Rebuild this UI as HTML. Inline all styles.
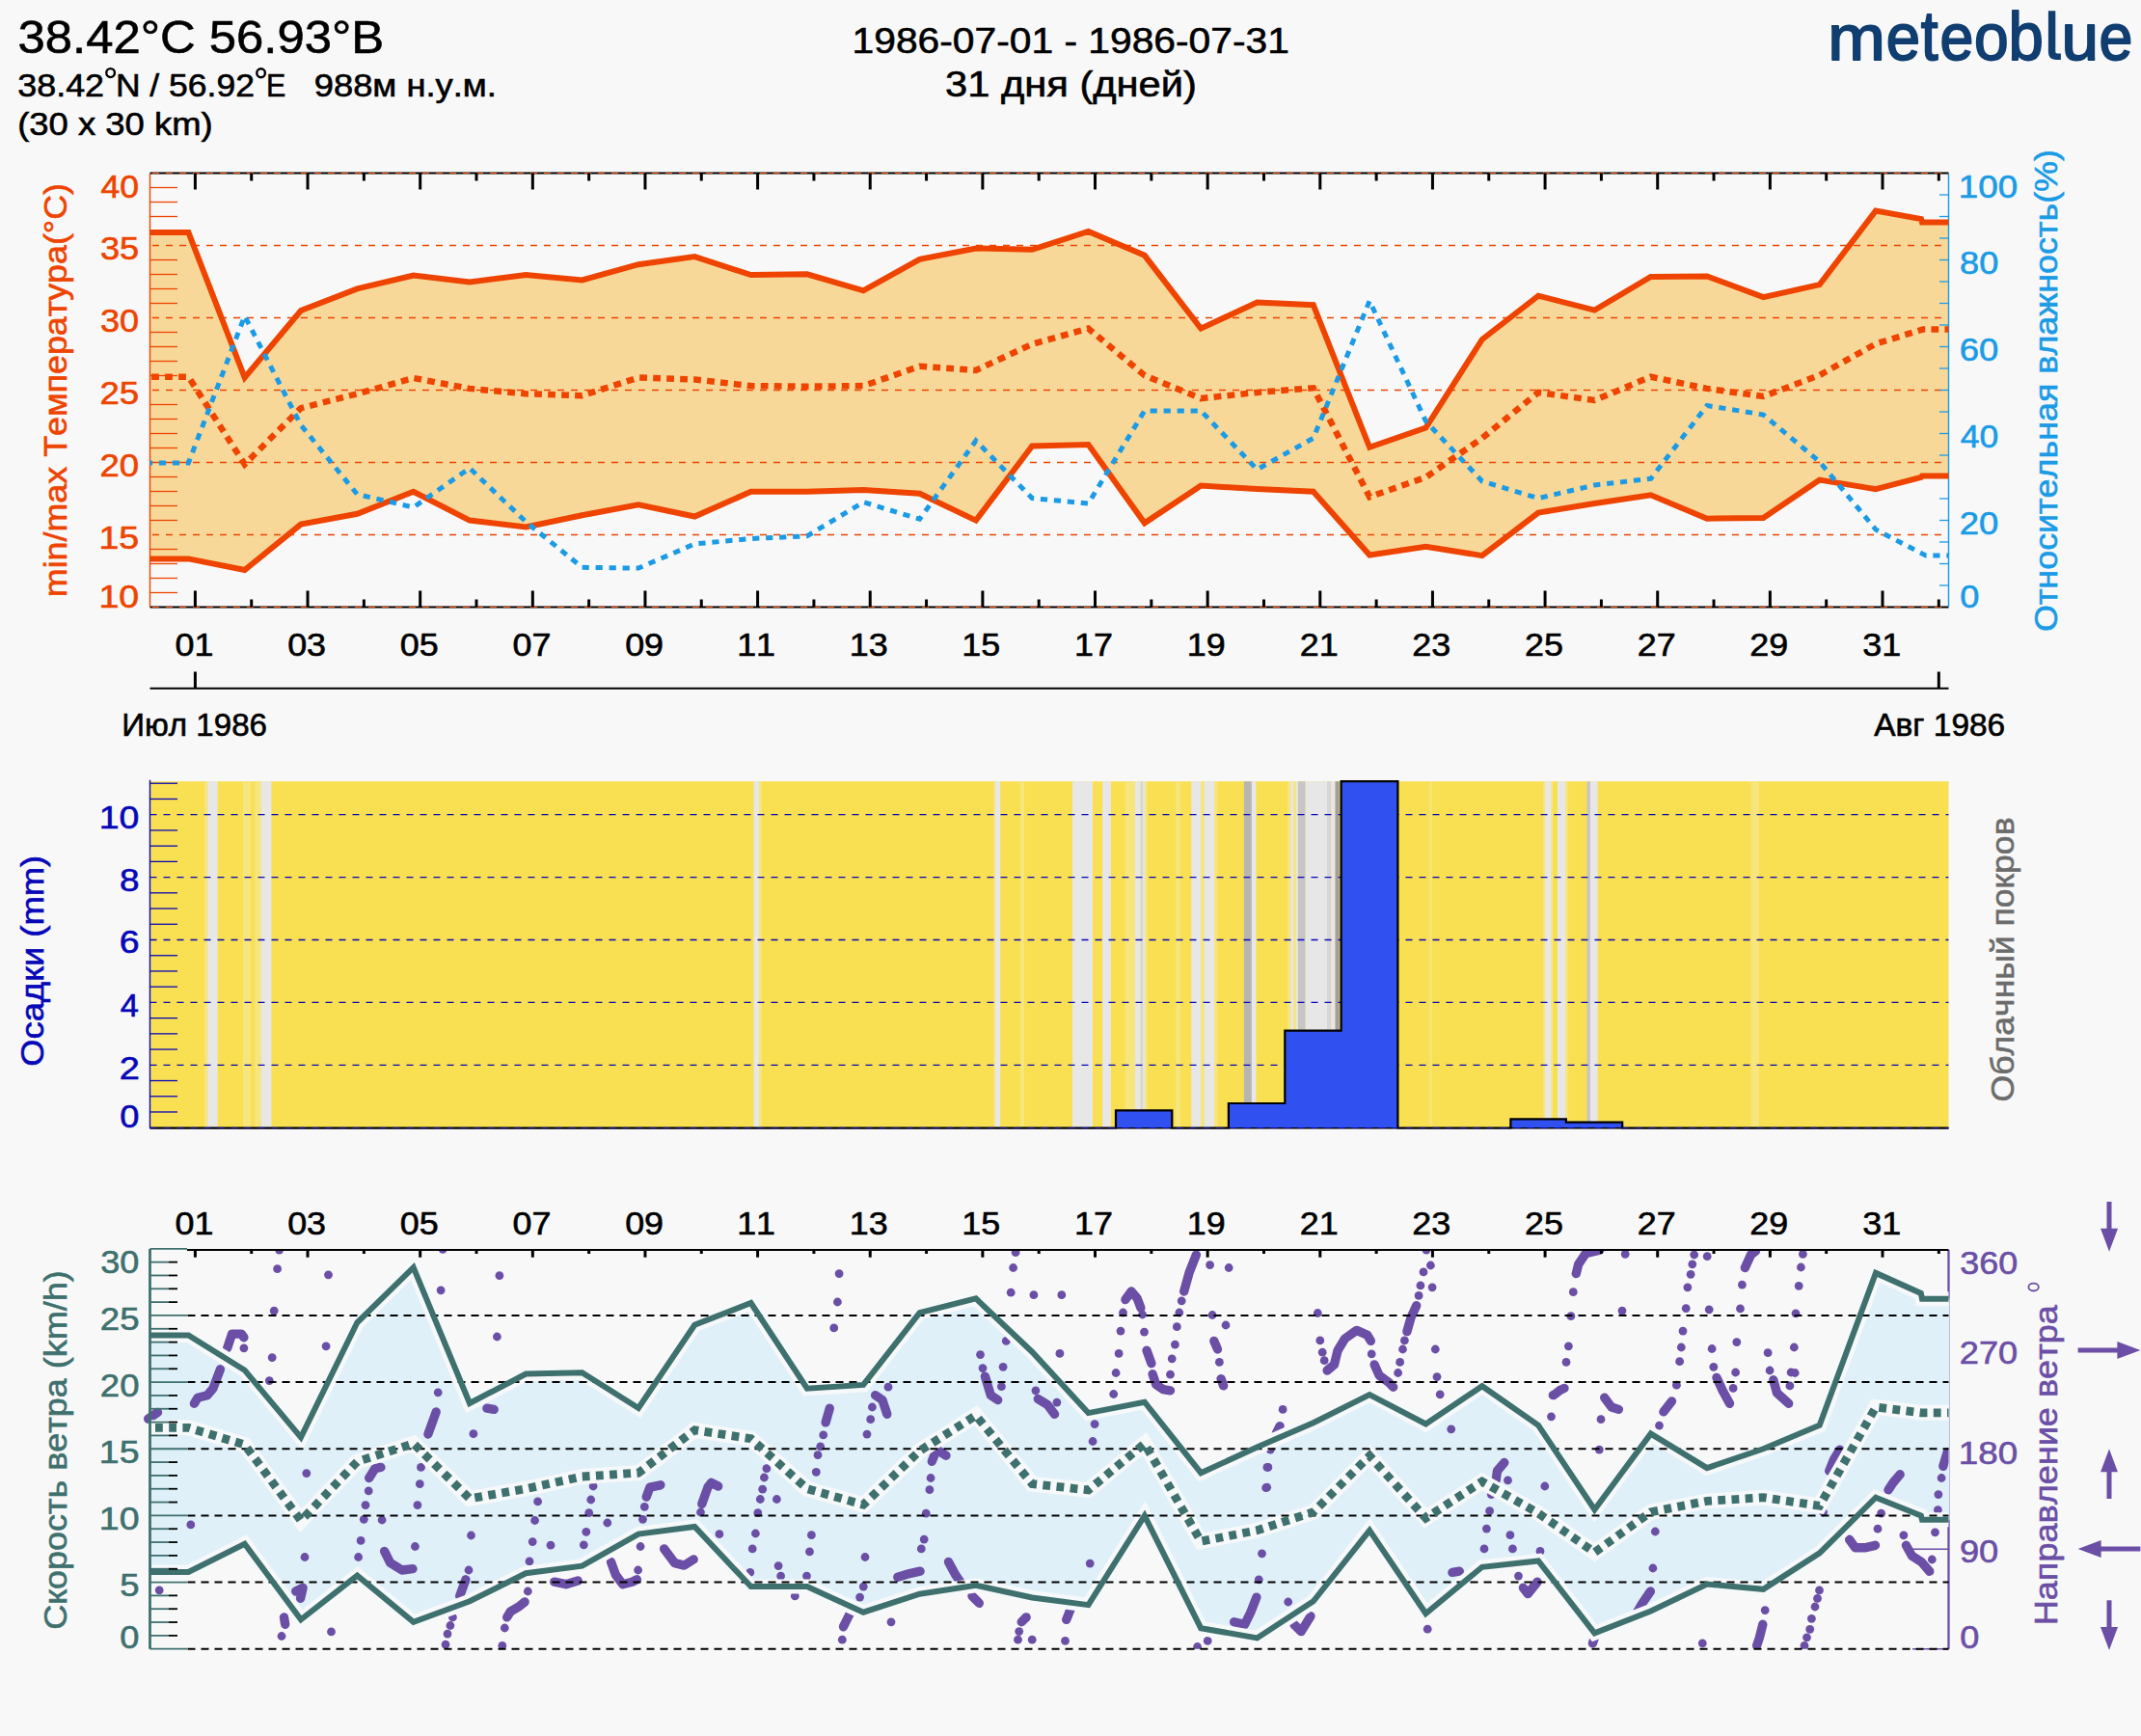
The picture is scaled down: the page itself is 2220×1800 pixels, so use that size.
<!DOCTYPE html>
<html><head><meta charset="utf-8"><title>meteoblue</title>
<style>html,body{margin:0;padding:0;background:#f8f8f8;} svg{display:block;}</style>
</head><body>
<svg width="2220" height="1800" viewBox="0 0 2220 1800" font-family="&quot;Liberation Sans&quot;, sans-serif" style="font-kerning:none">
<rect x="0" y="0" width="2220" height="1800" fill="#f8f8f8"/>
<text transform="translate(18.56,55.20) scale(1.0437,1)" font-size="48.69" fill="#000" stroke="#000" stroke-width="0.6">38.42°C 56.93°B</text>
<text transform="translate(18.33,99.90) scale(1.0731,1)" font-size="33.43" fill="#000" stroke="#000" stroke-width="0.6">38.42</text>
<text transform="translate(119.89,99.90) scale(1.0614,1)" font-size="33.43" fill="#000" stroke="#000" stroke-width="0.6">N / 56.92</text>
<text transform="translate(276.00,99.90) scale(0.9106,1)" font-size="33.43" fill="#000" stroke="#000" stroke-width="0.6">E</text>
<ellipse cx="114.6" cy="75.6" rx="4.3" ry="4.5" fill="none" stroke="#000" stroke-width="2.4"/>
<ellipse cx="270.6" cy="75.7" rx="4.3" ry="4.5" fill="none" stroke="#000" stroke-width="2.4"/>
<text transform="translate(325.80,99.90) scale(1.1020,1)" font-size="32.94" fill="#000" stroke="#000" stroke-width="0.6">988м н.у.м.</text>
<text transform="translate(18.24,139.90) scale(1.1155,1)" font-size="32.65" fill="#000" stroke="#000" stroke-width="0.6">(30 x 30 km)</text>
<text transform="translate(883.59,55.00) scale(1.0790,1)" font-size="37.79" fill="#000" stroke="#000" stroke-width="0.6">1986-07-01 - 1986-07-31</text>
<text transform="translate(980.11,100.00) scale(1.1188,1)" font-size="37.24" fill="#000" stroke="#000" stroke-width="0.6">31 дня (дней)</text>
<text transform="translate(1895.35,61.70) scale(1.0658,1)" font-size="67.09" fill="#103e70" stroke="#103e70" stroke-width="1.9" stroke-linejoin="round">m</text>
<text transform="translate(1955.80,61.70) scale(0.9286,1)" font-size="68.39" fill="#103e70" stroke="#103e70" stroke-width="1.9" stroke-linejoin="round">e</text>
<text transform="translate(1991.63,61.70) scale(0.8890,1)" font-size="72.24" fill="#103e70" stroke="#103e70" stroke-width="1.9" stroke-linejoin="round">t</text>
<text transform="translate(2011.54,61.70) scale(0.9161,1)" font-size="68.39" fill="#103e70" stroke="#103e70" stroke-width="1.9" stroke-linejoin="round">e</text>
<text transform="translate(2046.91,61.70) scale(0.9383,1)" font-size="68.39" fill="#103e70" stroke="#103e70" stroke-width="1.9" stroke-linejoin="round">o</text>
<text transform="translate(2082.59,61.70) scale(0.9381,1)" font-size="69.69" fill="#103e70" stroke="#103e70" stroke-width="1.9" stroke-linejoin="round">b</text>
<text transform="translate(2137.61,61.70) scale(1.0213,1)" font-size="67.76" fill="#103e70" stroke="#103e70" stroke-width="1.9" stroke-linejoin="round">u</text>
<text transform="translate(2176.54,61.70) scale(0.9161,1)" font-size="68.39" fill="#103e70" stroke="#103e70" stroke-width="1.9" stroke-linejoin="round">e</text>
<path d="M2123.9,11.2 h7.4 v42.5 q0,1.8 1.8,1.8 h3.8 v6.4 h-5.2 q-7.8,0 -7.8,-7.8 z" fill="#103e70"/>
<polygon points="155.5,240.9 195.4,240.9 253.7,391.5 312.0,322.0 370.4,299.4 428.7,285.5 487.0,292.4 545.3,285.0 603.6,290.5 662.0,274.2 720.3,266.1 778.6,285.1 836.9,284.3 895.2,301.3 953.6,268.8 1011.9,257.5 1070.2,258.8 1128.5,239.9 1186.8,264.8 1245.2,340.6 1303.5,313.5 1361.8,316.2 1420.1,463.8 1478.4,443.5 1536.8,352.0 1595.1,306.7 1653.4,321.6 1711.7,287.0 1770.0,286.4 1828.4,308.1 1886.7,295.1 1945.0,218.5 1992.0,227.0 1993.0,230.4 2020.5,230.4 2020.5,493.6 1993.0,493.6 1992.0,494.9 1945.0,507.1 1886.7,497.6 1828.4,536.9 1770.0,537.7 1711.7,513.3 1653.4,522.0 1595.1,531.5 1536.8,576.1 1478.4,566.7 1420.1,575.5 1361.8,509.8 1303.5,507.1 1245.2,503.6 1186.8,542.3 1128.5,461.1 1070.2,462.4 1011.9,539.6 953.6,511.7 895.2,507.9 836.9,509.8 778.6,509.8 720.3,535.5 662.0,523.3 603.6,534.2 545.3,546.4 487.0,539.6 428.7,509.8 370.4,532.8 312.0,543.6 253.7,591.0 195.4,579.4 155.5,579.4" fill="#f8d899"/>
<line x1="158" y1="254.5" x2="2020.5" y2="254.5" stroke="#ee4400" stroke-width="1.3" stroke-dasharray="7 7"/>
<line x1="158" y1="329.5" x2="2020.5" y2="329.5" stroke="#ee4400" stroke-width="1.3" stroke-dasharray="7 7"/>
<line x1="158" y1="404.5" x2="2020.5" y2="404.5" stroke="#ee4400" stroke-width="1.3" stroke-dasharray="7 7"/>
<line x1="158" y1="479.5" x2="2020.5" y2="479.5" stroke="#ee4400" stroke-width="1.3" stroke-dasharray="7 7"/>
<line x1="158" y1="554.5" x2="2020.5" y2="554.5" stroke="#ee4400" stroke-width="1.3" stroke-dasharray="7 7"/>
<line x1="155.5" y1="614.5" x2="184" y2="614.5" stroke="#ee4400" stroke-width="1.3"/>
<line x1="155.5" y1="599.5" x2="184" y2="599.5" stroke="#ee4400" stroke-width="1.3"/>
<line x1="155.5" y1="584.5" x2="184" y2="584.5" stroke="#ee4400" stroke-width="1.3"/>
<line x1="155.5" y1="569.5" x2="184" y2="569.5" stroke="#ee4400" stroke-width="1.3"/>
<line x1="155.5" y1="539.5" x2="184" y2="539.5" stroke="#ee4400" stroke-width="1.3"/>
<line x1="155.5" y1="524.5" x2="184" y2="524.5" stroke="#ee4400" stroke-width="1.3"/>
<line x1="155.5" y1="509.5" x2="184" y2="509.5" stroke="#ee4400" stroke-width="1.3"/>
<line x1="155.5" y1="494.5" x2="184" y2="494.5" stroke="#ee4400" stroke-width="1.3"/>
<line x1="155.5" y1="464.5" x2="184" y2="464.5" stroke="#ee4400" stroke-width="1.3"/>
<line x1="155.5" y1="449.5" x2="184" y2="449.5" stroke="#ee4400" stroke-width="1.3"/>
<line x1="155.5" y1="434.5" x2="184" y2="434.5" stroke="#ee4400" stroke-width="1.3"/>
<line x1="155.5" y1="419.5" x2="184" y2="419.5" stroke="#ee4400" stroke-width="1.3"/>
<line x1="155.5" y1="389.5" x2="184" y2="389.5" stroke="#ee4400" stroke-width="1.3"/>
<line x1="155.5" y1="374.5" x2="184" y2="374.5" stroke="#ee4400" stroke-width="1.3"/>
<line x1="155.5" y1="359.5" x2="184" y2="359.5" stroke="#ee4400" stroke-width="1.3"/>
<line x1="155.5" y1="344.5" x2="184" y2="344.5" stroke="#ee4400" stroke-width="1.3"/>
<line x1="155.5" y1="314.5" x2="184" y2="314.5" stroke="#ee4400" stroke-width="1.3"/>
<line x1="155.5" y1="299.5" x2="184" y2="299.5" stroke="#ee4400" stroke-width="1.3"/>
<line x1="155.5" y1="284.5" x2="184" y2="284.5" stroke="#ee4400" stroke-width="1.3"/>
<line x1="155.5" y1="269.5" x2="184" y2="269.5" stroke="#ee4400" stroke-width="1.3"/>
<line x1="155.5" y1="239.5" x2="184" y2="239.5" stroke="#ee4400" stroke-width="1.3"/>
<line x1="155.5" y1="224.5" x2="184" y2="224.5" stroke="#ee4400" stroke-width="1.3"/>
<line x1="155.5" y1="209.5" x2="184" y2="209.5" stroke="#ee4400" stroke-width="1.3"/>
<line x1="155.5" y1="194.5" x2="184" y2="194.5" stroke="#ee4400" stroke-width="1.3"/>
<line x1="2011" y1="607.0" x2="2020.5" y2="607.0" stroke="#1b9be6" stroke-width="1.3"/>
<line x1="2011" y1="584.5" x2="2020.5" y2="584.5" stroke="#1b9be6" stroke-width="1.3"/>
<line x1="2011" y1="562.0" x2="2020.5" y2="562.0" stroke="#1b9be6" stroke-width="1.3"/>
<line x1="2011" y1="539.5" x2="2020.5" y2="539.5" stroke="#1b9be6" stroke-width="1.3"/>
<line x1="2011" y1="517.0" x2="2020.5" y2="517.0" stroke="#1b9be6" stroke-width="1.3"/>
<line x1="2011" y1="494.5" x2="2020.5" y2="494.5" stroke="#1b9be6" stroke-width="1.3"/>
<line x1="2011" y1="472.0" x2="2020.5" y2="472.0" stroke="#1b9be6" stroke-width="1.3"/>
<line x1="2011" y1="449.5" x2="2020.5" y2="449.5" stroke="#1b9be6" stroke-width="1.3"/>
<line x1="2011" y1="427.0" x2="2020.5" y2="427.0" stroke="#1b9be6" stroke-width="1.3"/>
<line x1="2011" y1="404.5" x2="2020.5" y2="404.5" stroke="#1b9be6" stroke-width="1.3"/>
<line x1="2011" y1="382.0" x2="2020.5" y2="382.0" stroke="#1b9be6" stroke-width="1.3"/>
<line x1="2011" y1="359.5" x2="2020.5" y2="359.5" stroke="#1b9be6" stroke-width="1.3"/>
<line x1="2011" y1="337.0" x2="2020.5" y2="337.0" stroke="#1b9be6" stroke-width="1.3"/>
<line x1="2011" y1="314.5" x2="2020.5" y2="314.5" stroke="#1b9be6" stroke-width="1.3"/>
<line x1="2011" y1="292.0" x2="2020.5" y2="292.0" stroke="#1b9be6" stroke-width="1.3"/>
<line x1="2011" y1="269.5" x2="2020.5" y2="269.5" stroke="#1b9be6" stroke-width="1.3"/>
<line x1="2011" y1="247.0" x2="2020.5" y2="247.0" stroke="#1b9be6" stroke-width="1.3"/>
<line x1="2011" y1="224.5" x2="2020.5" y2="224.5" stroke="#1b9be6" stroke-width="1.3"/>
<line x1="2011" y1="202.0" x2="2020.5" y2="202.0" stroke="#1b9be6" stroke-width="1.3"/>
<line x1="155.5" y1="179.5" x2="2020.5" y2="179.5" stroke="#000" stroke-width="2"/>
<line x1="155.5" y1="629.5" x2="2020.5" y2="629.5" stroke="#000" stroke-width="2"/>
<line x1="158" y1="179.5" x2="2020.5" y2="179.5" stroke="#ee4400" stroke-width="1.2" stroke-dasharray="7 7"/>
<line x1="158" y1="629.5" x2="2020.5" y2="629.5" stroke="#ee4400" stroke-width="1.2" stroke-dasharray="7 7"/>
<line x1="202.4" y1="179.5" x2="202.4" y2="196.5" stroke="#000" stroke-width="3"/>
<line x1="202.4" y1="629.5" x2="202.4" y2="612.5" stroke="#000" stroke-width="3"/>
<line x1="260.72" y1="179.5" x2="260.72" y2="187.5" stroke="#000" stroke-width="3"/>
<line x1="260.72" y1="629.5" x2="260.72" y2="621.5" stroke="#000" stroke-width="3"/>
<line x1="319.04" y1="179.5" x2="319.04" y2="196.5" stroke="#000" stroke-width="3"/>
<line x1="319.04" y1="629.5" x2="319.04" y2="612.5" stroke="#000" stroke-width="3"/>
<line x1="377.36" y1="179.5" x2="377.36" y2="187.5" stroke="#000" stroke-width="3"/>
<line x1="377.36" y1="629.5" x2="377.36" y2="621.5" stroke="#000" stroke-width="3"/>
<line x1="435.68" y1="179.5" x2="435.68" y2="196.5" stroke="#000" stroke-width="3"/>
<line x1="435.68" y1="629.5" x2="435.68" y2="612.5" stroke="#000" stroke-width="3"/>
<line x1="494.0" y1="179.5" x2="494.0" y2="187.5" stroke="#000" stroke-width="3"/>
<line x1="494.0" y1="629.5" x2="494.0" y2="621.5" stroke="#000" stroke-width="3"/>
<line x1="552.32" y1="179.5" x2="552.32" y2="196.5" stroke="#000" stroke-width="3"/>
<line x1="552.32" y1="629.5" x2="552.32" y2="612.5" stroke="#000" stroke-width="3"/>
<line x1="610.64" y1="179.5" x2="610.64" y2="187.5" stroke="#000" stroke-width="3"/>
<line x1="610.64" y1="629.5" x2="610.64" y2="621.5" stroke="#000" stroke-width="3"/>
<line x1="668.96" y1="179.5" x2="668.96" y2="196.5" stroke="#000" stroke-width="3"/>
<line x1="668.96" y1="629.5" x2="668.96" y2="612.5" stroke="#000" stroke-width="3"/>
<line x1="727.28" y1="179.5" x2="727.28" y2="187.5" stroke="#000" stroke-width="3"/>
<line x1="727.28" y1="629.5" x2="727.28" y2="621.5" stroke="#000" stroke-width="3"/>
<line x1="785.6" y1="179.5" x2="785.6" y2="196.5" stroke="#000" stroke-width="3"/>
<line x1="785.6" y1="629.5" x2="785.6" y2="612.5" stroke="#000" stroke-width="3"/>
<line x1="843.92" y1="179.5" x2="843.92" y2="187.5" stroke="#000" stroke-width="3"/>
<line x1="843.92" y1="629.5" x2="843.92" y2="621.5" stroke="#000" stroke-width="3"/>
<line x1="902.24" y1="179.5" x2="902.24" y2="196.5" stroke="#000" stroke-width="3"/>
<line x1="902.24" y1="629.5" x2="902.24" y2="612.5" stroke="#000" stroke-width="3"/>
<line x1="960.56" y1="179.5" x2="960.56" y2="187.5" stroke="#000" stroke-width="3"/>
<line x1="960.56" y1="629.5" x2="960.56" y2="621.5" stroke="#000" stroke-width="3"/>
<line x1="1018.88" y1="179.5" x2="1018.88" y2="196.5" stroke="#000" stroke-width="3"/>
<line x1="1018.88" y1="629.5" x2="1018.88" y2="612.5" stroke="#000" stroke-width="3"/>
<line x1="1077.2" y1="179.5" x2="1077.2" y2="187.5" stroke="#000" stroke-width="3"/>
<line x1="1077.2" y1="629.5" x2="1077.2" y2="621.5" stroke="#000" stroke-width="3"/>
<line x1="1135.52" y1="179.5" x2="1135.52" y2="196.5" stroke="#000" stroke-width="3"/>
<line x1="1135.52" y1="629.5" x2="1135.52" y2="612.5" stroke="#000" stroke-width="3"/>
<line x1="1193.8400000000001" y1="179.5" x2="1193.8400000000001" y2="187.5" stroke="#000" stroke-width="3"/>
<line x1="1193.8400000000001" y1="629.5" x2="1193.8400000000001" y2="621.5" stroke="#000" stroke-width="3"/>
<line x1="1252.16" y1="179.5" x2="1252.16" y2="196.5" stroke="#000" stroke-width="3"/>
<line x1="1252.16" y1="629.5" x2="1252.16" y2="612.5" stroke="#000" stroke-width="3"/>
<line x1="1310.48" y1="179.5" x2="1310.48" y2="187.5" stroke="#000" stroke-width="3"/>
<line x1="1310.48" y1="629.5" x2="1310.48" y2="621.5" stroke="#000" stroke-width="3"/>
<line x1="1368.8000000000002" y1="179.5" x2="1368.8000000000002" y2="196.5" stroke="#000" stroke-width="3"/>
<line x1="1368.8000000000002" y1="629.5" x2="1368.8000000000002" y2="612.5" stroke="#000" stroke-width="3"/>
<line x1="1427.1200000000001" y1="179.5" x2="1427.1200000000001" y2="187.5" stroke="#000" stroke-width="3"/>
<line x1="1427.1200000000001" y1="629.5" x2="1427.1200000000001" y2="621.5" stroke="#000" stroke-width="3"/>
<line x1="1485.44" y1="179.5" x2="1485.44" y2="196.5" stroke="#000" stroke-width="3"/>
<line x1="1485.44" y1="629.5" x2="1485.44" y2="612.5" stroke="#000" stroke-width="3"/>
<line x1="1543.76" y1="179.5" x2="1543.76" y2="187.5" stroke="#000" stroke-width="3"/>
<line x1="1543.76" y1="629.5" x2="1543.76" y2="621.5" stroke="#000" stroke-width="3"/>
<line x1="1602.0800000000002" y1="179.5" x2="1602.0800000000002" y2="196.5" stroke="#000" stroke-width="3"/>
<line x1="1602.0800000000002" y1="629.5" x2="1602.0800000000002" y2="612.5" stroke="#000" stroke-width="3"/>
<line x1="1660.4" y1="179.5" x2="1660.4" y2="187.5" stroke="#000" stroke-width="3"/>
<line x1="1660.4" y1="629.5" x2="1660.4" y2="621.5" stroke="#000" stroke-width="3"/>
<line x1="1718.72" y1="179.5" x2="1718.72" y2="196.5" stroke="#000" stroke-width="3"/>
<line x1="1718.72" y1="629.5" x2="1718.72" y2="612.5" stroke="#000" stroke-width="3"/>
<line x1="1777.0400000000002" y1="179.5" x2="1777.0400000000002" y2="187.5" stroke="#000" stroke-width="3"/>
<line x1="1777.0400000000002" y1="629.5" x2="1777.0400000000002" y2="621.5" stroke="#000" stroke-width="3"/>
<line x1="1835.3600000000001" y1="179.5" x2="1835.3600000000001" y2="196.5" stroke="#000" stroke-width="3"/>
<line x1="1835.3600000000001" y1="629.5" x2="1835.3600000000001" y2="612.5" stroke="#000" stroke-width="3"/>
<line x1="1893.68" y1="179.5" x2="1893.68" y2="187.5" stroke="#000" stroke-width="3"/>
<line x1="1893.68" y1="629.5" x2="1893.68" y2="621.5" stroke="#000" stroke-width="3"/>
<line x1="1952.0" y1="179.5" x2="1952.0" y2="196.5" stroke="#000" stroke-width="3"/>
<line x1="1952.0" y1="629.5" x2="1952.0" y2="612.5" stroke="#000" stroke-width="3"/>
<line x1="2010.3200000000002" y1="179.5" x2="2010.3200000000002" y2="187.5" stroke="#000" stroke-width="3"/>
<line x1="2010.3200000000002" y1="629.5" x2="2010.3200000000002" y2="621.5" stroke="#000" stroke-width="3"/>
<line x1="155.5" y1="179.5" x2="155.5" y2="629.5" stroke="#ee4400" stroke-width="1.4"/>
<line x1="2020.5" y1="179.5" x2="2020.5" y2="629.5" stroke="#1b9be6" stroke-width="1.4"/>
<polyline points="155.5,240.9 195.4,240.9 253.7,391.5 312.0,322.0 370.4,299.4 428.7,285.5 487.0,292.4 545.3,285.0 603.6,290.5 662.0,274.2 720.3,266.1 778.6,285.1 836.9,284.3 895.2,301.3 953.6,268.8 1011.9,257.5 1070.2,258.8 1128.5,239.9 1186.8,264.8 1245.2,340.6 1303.5,313.5 1361.8,316.2 1420.1,463.8 1478.4,443.5 1536.8,352.0 1595.1,306.7 1653.4,321.6 1711.7,287.0 1770.0,286.4 1828.4,308.1 1886.7,295.1 1945.0,218.5 1992.0,227.0 1993.0,230.4 2020.5,230.4" fill="none" stroke="#ee4400" stroke-width="6" stroke-linejoin="miter"/>
<polyline points="155.5,579.4 195.4,579.4 253.7,591.0 312.0,543.6 370.4,532.8 428.7,509.8 487.0,539.6 545.3,546.4 603.6,534.2 662.0,523.3 720.3,535.5 778.6,509.8 836.9,509.8 895.2,507.9 953.6,511.7 1011.9,539.6 1070.2,462.4 1128.5,461.1 1186.8,542.3 1245.2,503.6 1303.5,507.1 1361.8,509.8 1420.1,575.5 1478.4,566.7 1536.8,576.1 1595.1,531.5 1653.4,522.0 1711.7,513.3 1770.0,537.7 1828.4,536.9 1886.7,497.6 1945.0,507.1 1992.0,494.9 1993.0,493.6 2020.5,493.6" fill="none" stroke="#ee4400" stroke-width="6" stroke-linejoin="miter"/>
<polyline points="155.5,390.7 195.4,390.7 253.7,481.4 312.0,423.2 370.4,408.3 428.7,392.0 487.0,402.9 545.3,408.3 603.6,410.2 662.0,391.5 720.3,393.4 778.6,400.1 836.9,400.7 895.2,400.1 953.6,379.8 1011.9,383.9 1070.2,356.8 1128.5,340.6 1186.8,389.3 1245.2,413.1 1303.5,406.9 1361.8,402.3 1420.1,515.2 1478.4,494.9 1536.8,454.3 1595.1,406.9 1653.4,415.0 1711.7,390.7 1770.0,402.9 1828.4,411.0 1886.7,389.0 1945.0,356.5 1994.0,341.5 2020.5,341.5" fill="none" stroke="#ee4400" stroke-width="6.5" stroke-dasharray="7.8 6.2" stroke-dashoffset="12.4"/>
<polyline points="155.5,480.0 195.4,480.0 253.7,327.6 312.0,440.8 370.4,512.5 428.7,526.0 487.0,485.4 545.3,541.0 603.6,588.3 662.0,589.1 720.3,564.0 778.6,558.5 836.9,555.8 895.2,520.6 953.6,538.2 1011.9,457.0 1070.2,516.6 1128.5,522.0 1186.8,425.9 1245.2,425.9 1303.5,486.8 1361.8,454.3 1420.1,312.0 1478.4,436.7 1536.8,499.0 1595.1,516.6 1653.4,503.0 1711.7,496.3 1770.0,420.5 1828.4,430.0 1886.7,478.7 1945.0,549.1 1997.0,576.1 2020.5,576.1" fill="none" stroke="#1b9be6" stroke-width="5" stroke-dasharray="7.2 6.8" stroke-dashoffset="4.6"/>
<text transform="translate(104.48,204.90) scale(1.0781,1)" font-size="32.94" fill="#ee4400" stroke="#ee4400" stroke-width="0.6">40</text>
<text transform="translate(103.92,268.60) scale(1.0970,1)" font-size="32.94" fill="#ee4400" stroke="#ee4400" stroke-width="0.6">35</text>
<text transform="translate(103.93,343.60) scale(1.0939,1)" font-size="32.94" fill="#ee4400" stroke="#ee4400" stroke-width="0.6">30</text>
<text transform="translate(103.46,418.60) scale(1.1101,1)" font-size="32.94" fill="#ee4400" stroke="#ee4400" stroke-width="0.6">25</text>
<text transform="translate(103.47,493.60) scale(1.1070,1)" font-size="32.94" fill="#ee4400" stroke="#ee4400" stroke-width="0.6">20</text>
<text transform="translate(102.44,568.60) scale(1.1390,1)" font-size="32.94" fill="#ee4400" stroke="#ee4400" stroke-width="0.6">15</text>
<text transform="translate(102.45,630.00) scale(1.1357,1)" font-size="32.94" fill="#ee4400" stroke="#ee4400" stroke-width="0.6">10</text>
<text transform="translate(2030.79,204.70) scale(1.1180,1)" font-size="32.94" fill="#1b9be6" stroke="#1b9be6" stroke-width="0.6">100</text>
<text transform="translate(2032.03,283.90) scale(1.0996,1)" font-size="32.94" fill="#1b9be6" stroke="#1b9be6" stroke-width="0.6">80</text>
<text transform="translate(2031.75,373.80) scale(1.1075,1)" font-size="32.94" fill="#1b9be6" stroke="#1b9be6" stroke-width="0.6">60</text>
<text transform="translate(2032.78,463.60) scale(1.0781,1)" font-size="32.94" fill="#1b9be6" stroke="#1b9be6" stroke-width="0.6">40</text>
<text transform="translate(2031.77,553.80) scale(1.1070,1)" font-size="32.94" fill="#1b9be6" stroke="#1b9be6" stroke-width="0.6">20</text>
<text transform="translate(2032.19,629.80) scale(1.0987,1)" font-size="32.94" fill="#1b9be6" stroke="#1b9be6" stroke-width="0.6">0</text>
<text transform="translate(69.00,619.18) rotate(-90) scale(1.0578,1)" font-size="33.88" fill="#ee4400" stroke="#ee4400" stroke-width="0.6">min/max Температура(°C)</text>
<text transform="translate(2133.00,655.00) rotate(-90) scale(1.0537,1)" font-size="34.07" fill="#1b9be6" stroke="#1b9be6" stroke-width="0.6">Относительная влажность(%)</text>
<text transform="translate(181.61,679.60) scale(1.0900,1)" font-size="32.94" fill="#000" stroke="#000" stroke-width="0.6">01</text>
<text transform="translate(298.16,679.60) scale(1.0900,1)" font-size="32.94" fill="#000" stroke="#000" stroke-width="0.6">03</text>
<text transform="translate(414.76,679.60) scale(1.0900,1)" font-size="32.94" fill="#000" stroke="#000" stroke-width="0.6">05</text>
<text transform="translate(531.55,679.60) scale(1.0900,1)" font-size="32.94" fill="#000" stroke="#000" stroke-width="0.6">07</text>
<text transform="translate(648.14,679.60) scale(1.0900,1)" font-size="32.94" fill="#000" stroke="#000" stroke-width="0.6">09</text>
<text transform="translate(764.14,679.60) scale(1.0900,1)" font-size="32.94" fill="#000" stroke="#000" stroke-width="0.6">11</text>
<text transform="translate(880.69,679.60) scale(1.0900,1)" font-size="32.94" fill="#000" stroke="#000" stroke-width="0.6">13</text>
<text transform="translate(997.30,679.60) scale(1.0900,1)" font-size="32.94" fill="#000" stroke="#000" stroke-width="0.6">15</text>
<text transform="translate(1114.09,679.60) scale(1.0900,1)" font-size="32.94" fill="#000" stroke="#000" stroke-width="0.6">17</text>
<text transform="translate(1230.67,679.60) scale(1.0900,1)" font-size="32.94" fill="#000" stroke="#000" stroke-width="0.6">19</text>
<text transform="translate(1347.81,679.60) scale(1.0900,1)" font-size="32.94" fill="#000" stroke="#000" stroke-width="0.6">21</text>
<text transform="translate(1464.36,679.60) scale(1.0900,1)" font-size="32.94" fill="#000" stroke="#000" stroke-width="0.6">23</text>
<text transform="translate(1580.96,679.60) scale(1.0900,1)" font-size="32.94" fill="#000" stroke="#000" stroke-width="0.6">25</text>
<text transform="translate(1697.75,679.60) scale(1.0900,1)" font-size="32.94" fill="#000" stroke="#000" stroke-width="0.6">27</text>
<text transform="translate(1814.34,679.60) scale(1.0900,1)" font-size="32.94" fill="#000" stroke="#000" stroke-width="0.6">29</text>
<text transform="translate(1931.22,679.60) scale(1.0900,1)" font-size="32.94" fill="#000" stroke="#000" stroke-width="0.6">31</text>
<line x1="155.5" y1="713.7" x2="2020.5" y2="713.7" stroke="#000" stroke-width="2"/>
<line x1="202.4" y1="713.7" x2="202.4" y2="696.5" stroke="#000" stroke-width="3"/>
<line x1="2010.3200000000002" y1="713.7" x2="2010.3200000000002" y2="696.5" stroke="#000" stroke-width="3"/>
<text transform="translate(126.28,762.80) scale(0.9902,1)" font-size="33.43" fill="#000" stroke="#000" stroke-width="0.6">Июл 1986</text>
<text transform="translate(1943.23,762.80) scale(1.0009,1)" font-size="33.43" fill="#000" stroke="#000" stroke-width="0.6">Авг 1986</text>
<rect x="155.5" y="810.2" width="1865.0" height="359.29999999999995" fill="#f9df52"/>
<rect x="212.1" y="810.2" width="3.1" height="359.29999999999995" fill="#f7e67e"/>
<rect x="215.2" y="810.2" width="10.5" height="359.29999999999995" fill="#e7e7e7"/>
<rect x="252" y="810.2" width="3.8" height="359.29999999999995" fill="#f7e67e"/>
<rect x="255.8" y="810.2" width="4.2" height="359.29999999999995" fill="#f7e67e"/>
<rect x="264.2" y="810.2" width="6.6" height="359.29999999999995" fill="#f7e67e"/>
<rect x="270.8" y="810.2" width="10.6" height="359.29999999999995" fill="#e7e7e7"/>
<rect x="781.5" y="810.2" width="5.6" height="359.29999999999995" fill="#e7e7e7"/>
<rect x="787.1" y="810.2" width="2.8" height="359.29999999999995" fill="#f7e67e"/>
<rect x="1030.2" y="810.2" width="1.8" height="359.29999999999995" fill="#f7e67e"/>
<rect x="1032" y="810.2" width="5.2" height="359.29999999999995" fill="#e7e7e7"/>
<rect x="1058" y="810.2" width="4.0" height="359.29999999999995" fill="#f7e67e"/>
<rect x="1112" y="810.2" width="21.0" height="359.29999999999995" fill="#e7e7e7"/>
<rect x="1143.2" y="810.2" width="8.7" height="359.29999999999995" fill="#e7e7e7"/>
<rect x="1166.6" y="810.2" width="10.5" height="359.29999999999995" fill="#f7e67e"/>
<rect x="1177.1" y="810.2" width="5.6" height="359.29999999999995" fill="#e7e7e7"/>
<rect x="1182.7" y="810.2" width="2.5" height="359.29999999999995" fill="#d6d6d6"/>
<rect x="1185.2" y="810.2" width="2.4" height="359.29999999999995" fill="#e7e7e7"/>
<rect x="1187.6" y="810.2" width="2.1" height="359.29999999999995" fill="#f7e67e"/>
<rect x="1219.2" y="810.2" width="4.8" height="359.29999999999995" fill="#f7e67e"/>
<rect x="1235.3" y="810.2" width="9.8" height="359.29999999999995" fill="#e7e7e7"/>
<rect x="1245.1" y="810.2" width="3.5" height="359.29999999999995" fill="#f7e67e"/>
<rect x="1248.6" y="810.2" width="10.5" height="359.29999999999995" fill="#e7e7e7"/>
<rect x="1259.1" y="810.2" width="3.5" height="359.29999999999995" fill="#f7e67e"/>
<rect x="1289.9" y="810.2" width="8.0" height="359.29999999999995" fill="#b6b6b6"/>
<rect x="1297.9" y="810.2" width="4.6" height="359.29999999999995" fill="#e7e7e7"/>
<rect x="1335.1" y="810.2" width="3.1" height="359.29999999999995" fill="#f7e67e"/>
<rect x="1338.2" y="810.2" width="2.8" height="359.29999999999995" fill="#e7e7e7"/>
<rect x="1341" y="810.2" width="2.8" height="359.29999999999995" fill="#f7e67e"/>
<rect x="1343.8" y="810.2" width="2.1" height="359.29999999999995" fill="#e7e7e7"/>
<rect x="1345.9" y="810.2" width="7.7" height="359.29999999999995" fill="#c6c6c6"/>
<rect x="1353.6" y="810.2" width="22.4" height="359.29999999999995" fill="#e7e7e7"/>
<rect x="1376" y="810.2" width="4.2" height="359.29999999999995" fill="#d6d6d6"/>
<rect x="1380.2" y="810.2" width="4.3" height="359.29999999999995" fill="#e7e7e7"/>
<rect x="1384.5" y="810.2" width="4.2" height="359.29999999999995" fill="#a0a0a0"/>
<rect x="1482.5" y="810.2" width="2.1" height="359.29999999999995" fill="#f7e67e"/>
<rect x="1600.2" y="810.2" width="1.8" height="359.29999999999995" fill="#f7e67e"/>
<rect x="1602" y="810.2" width="6.6" height="359.29999999999995" fill="#e7e7e7"/>
<rect x="1608.6" y="810.2" width="1.4" height="359.29999999999995" fill="#f7e67e"/>
<rect x="1615" y="810.2" width="8.5" height="359.29999999999995" fill="#e7e7e7"/>
<rect x="1623.5" y="810.2" width="2.4" height="359.29999999999995" fill="#f7e67e"/>
<rect x="1645.5" y="810.2" width="3.5" height="359.29999999999995" fill="#c6c6c6"/>
<rect x="1649" y="810.2" width="7.7" height="359.29999999999995" fill="#e7e7e7"/>
<rect x="1815.8" y="810.2" width="8.1" height="359.29999999999995" fill="#f7e67e"/>
<line x1="155.5" y1="844.7" x2="2020.5" y2="844.7" stroke="#0707b8" stroke-width="1.3" stroke-dasharray="7 7"/>
<line x1="155.5" y1="909.6" x2="2020.5" y2="909.6" stroke="#0707b8" stroke-width="1.3" stroke-dasharray="7 7"/>
<line x1="155.5" y1="974.5" x2="2020.5" y2="974.5" stroke="#0707b8" stroke-width="1.3" stroke-dasharray="7 7"/>
<line x1="155.5" y1="1039.4" x2="2020.5" y2="1039.4" stroke="#0707b8" stroke-width="1.3" stroke-dasharray="7 7"/>
<line x1="155.5" y1="1104.3" x2="2020.5" y2="1104.3" stroke="#0707b8" stroke-width="1.3" stroke-dasharray="7 7"/>
<path d="M155.5,1169.5 L1157,1169.5 L1157,1151.3 L1215.3,1151.3 L1215.3,1169.5 L1273.9,1169.5 L1273.9,1144 L1332.3,1144 L1332.3,1068.6 L1390.6,1068.6 L1390.6,810.2 L1449.4,810.2 L1449.4,1169.5 L1566.4,1169.5 L1566.4,1160.4 L1623.9,1160.4 L1623.9,1163.6 L1682.2,1163.6 L1682.2,1169.5 L2020.5,1169.5 Z" fill="#3050f0" stroke="none"/>
<path d="M155.5,1169.5 L1157,1169.5 L1157,1151.3 L1215.3,1151.3 L1215.3,1169.5 L1273.9,1169.5 L1273.9,1144 L1332.3,1144 L1332.3,1068.6 L1390.6,1068.6 L1390.6,810.2 L1449.4,810.2 L1449.4,1169.5 L1566.4,1169.5 L1566.4,1160.4 L1623.9,1160.4 L1623.9,1163.6 L1682.2,1163.6 L1682.2,1169.5 L2020.5,1169.5" fill="none" stroke="#000" stroke-width="2.2" stroke-linejoin="miter"/>
<line x1="155.5" y1="1169.8" x2="2020.5" y2="1169.8" stroke="#000" stroke-width="1.6"/>
<line x1="155.5" y1="1169.5" x2="2020.5" y2="1169.5" stroke="#0707b8" stroke-width="1.2" stroke-dasharray="7 7"/>
<line x1="155.5" y1="1152.9750000000001" x2="184" y2="1152.9750000000001" stroke="#0707b8" stroke-width="1.3"/>
<line x1="155.5" y1="1136.75" x2="184" y2="1136.75" stroke="#0707b8" stroke-width="1.3"/>
<line x1="155.5" y1="1120.525" x2="184" y2="1120.525" stroke="#0707b8" stroke-width="1.3"/>
<line x1="155.5" y1="1088.075" x2="184" y2="1088.075" stroke="#0707b8" stroke-width="1.3"/>
<line x1="155.5" y1="1071.8500000000001" x2="184" y2="1071.8500000000001" stroke="#0707b8" stroke-width="1.3"/>
<line x1="155.5" y1="1055.625" x2="184" y2="1055.625" stroke="#0707b8" stroke-width="1.3"/>
<line x1="155.5" y1="1023.1750000000001" x2="184" y2="1023.1750000000001" stroke="#0707b8" stroke-width="1.3"/>
<line x1="155.5" y1="1006.95" x2="184" y2="1006.95" stroke="#0707b8" stroke-width="1.3"/>
<line x1="155.5" y1="990.725" x2="184" y2="990.725" stroke="#0707b8" stroke-width="1.3"/>
<line x1="155.5" y1="958.2750000000001" x2="184" y2="958.2750000000001" stroke="#0707b8" stroke-width="1.3"/>
<line x1="155.5" y1="942.05" x2="184" y2="942.05" stroke="#0707b8" stroke-width="1.3"/>
<line x1="155.5" y1="925.825" x2="184" y2="925.825" stroke="#0707b8" stroke-width="1.3"/>
<line x1="155.5" y1="893.375" x2="184" y2="893.375" stroke="#0707b8" stroke-width="1.3"/>
<line x1="155.5" y1="877.1500000000001" x2="184" y2="877.1500000000001" stroke="#0707b8" stroke-width="1.3"/>
<line x1="155.5" y1="860.925" x2="184" y2="860.925" stroke="#0707b8" stroke-width="1.3"/>
<line x1="155.5" y1="828.475" x2="184" y2="828.475" stroke="#0707b8" stroke-width="1.3"/>
<line x1="155.5" y1="812.25" x2="184" y2="812.25" stroke="#0707b8" stroke-width="1.3"/>
<line x1="155.5" y1="808.7" x2="155.5" y2="1169.5" stroke="#0707b8" stroke-width="1.4"/>
<text transform="translate(102.75,859.40) scale(1.1357,1)" font-size="32.94" fill="#0707b8" stroke="#0707b8" stroke-width="0.6">10</text>
<text transform="translate(124.00,924.40) scale(1.1193,1)" font-size="32.94" fill="#0707b8" stroke="#0707b8" stroke-width="0.6">8</text>
<text transform="translate(123.70,988.40) scale(1.1382,1)" font-size="32.94" fill="#0707b8" stroke="#0707b8" stroke-width="0.6">6</text>
<text transform="translate(124.81,1053.60) scale(1.0423,1)" font-size="32.94" fill="#0707b8" stroke="#0707b8" stroke-width="0.6">4</text>
<text transform="translate(123.69,1118.60) scale(1.1528,1)" font-size="32.94" fill="#0707b8" stroke="#0707b8" stroke-width="0.6">2</text>
<text transform="translate(124.19,1168.60) scale(1.0987,1)" font-size="32.94" fill="#0707b8" stroke="#0707b8" stroke-width="0.6">0</text>
<text transform="translate(45.10,1105.82) rotate(-90) scale(1.0735,1)" font-size="33.88" fill="#0707b8" stroke="#0707b8" stroke-width="0.6">Осадки (mm)</text>
<text transform="translate(2088.00,1142.38) rotate(-90) scale(1.0491,1)" font-size="33.88" fill="#6b6b6b" stroke="#6b6b6b" stroke-width="0.6">Облачный покров</text>
<line x1="2020.5" y1="1296.0" x2="2020.5" y2="1709.7" stroke="#6b4fa6" stroke-width="2.3"/>
<line x1="1983" y1="1709.7" x2="2020.5" y2="1709.7" stroke="#6b4fa6" stroke-width="1.5"/>
<line x1="1983" y1="1606.1280000000002" x2="2020.5" y2="1606.1280000000002" stroke="#6b4fa6" stroke-width="1.5"/>
<line x1="1983" y1="1502.556" x2="2020.5" y2="1502.556" stroke="#6b4fa6" stroke-width="1.5"/>
<line x1="1983" y1="1398.984" x2="2020.5" y2="1398.984" stroke="#6b4fa6" stroke-width="1.5"/>
<polygon points="155.5,1384.5 195.4,1384.5 253.7,1420.7 312.0,1490.4 370.4,1371.3 428.7,1314.2 487.0,1455.0 545.3,1424.5 603.6,1423.3 662.0,1460.0 720.3,1373.8 778.6,1351.0 836.9,1439.7 895.2,1435.9 953.6,1361.1 1011.9,1346.4 1070.2,1401.7 1128.5,1465.1 1186.8,1453.7 1245.2,1527.2 1303.5,1500.6 1361.8,1475.2 1420.1,1446.1 1478.4,1476.5 1536.8,1437.2 1595.1,1477.8 1653.4,1565.2 1711.7,1486.6 1770.0,1522.1 1828.4,1502.3 1886.7,1477.8 1945.0,1319.9 1991.8,1340.9 1993.0,1346.7 2021.5,1346.7 2021.5,1575.7 1993.0,1575.7 1991.8,1571.4 1945.0,1552.7 1886.7,1610.3 1828.4,1647.8 1770.0,1642.6 1711.7,1670.5 1653.4,1693.3 1595.1,1618.5 1536.8,1624.8 1478.4,1673.0 1420.1,1586.8 1361.8,1660.3 1303.5,1698.4 1245.2,1688.2 1186.8,1571.6 1128.5,1664.1 1070.2,1656.5 1011.9,1643.8 953.6,1652.7 895.2,1671.7 836.9,1645.1 778.6,1645.1 720.3,1583.0 662.0,1590.6 603.6,1623.6 545.3,1631.2 487.0,1660.3 428.7,1681.9 370.4,1633.7 312.0,1679.3 253.7,1600.7 195.4,1630.0 155.5,1630.0" fill="#dff0f9"/>
<clipPath id="wclip"><rect x="148" y="1296.0" width="1872.5" height="413.70000000000005"/></clipPath>
<g clip-path="url(#wclip)" fill="#6b4fa6" stroke="#6b4fa6">
<polyline points="153.7,1471.2 163.5,1464.4" fill="none" stroke-width="9.4" stroke-linecap="round" stroke-linejoin="round"/>
<polyline points="201.4,1455.3 205.1,1449.2 214.9,1446.7 221.0,1439.4 224.7,1429.6 228.4,1419.8" fill="none" stroke-width="9.4" stroke-linecap="round" stroke-linejoin="round"/>
<polyline points="235.7,1397.8 240.6,1383.1 250.4,1383.1 252.9,1386.7" fill="none" stroke-width="9.4" stroke-linecap="round" stroke-linejoin="round"/>
<polyline points="306.7,1650.0 314.1,1646.3 311.6,1657.3" fill="none" stroke-width="9.4" stroke-linecap="round" stroke-linejoin="round"/>
<polyline points="294.5,1676.9 295.7,1684.3" fill="none" stroke-width="9.4" stroke-linecap="round" stroke-linejoin="round"/>
<polyline points="382.7,1532.5 388.8,1522.7 394.9,1521.4" fill="none" stroke-width="9.4" stroke-linecap="round" stroke-linejoin="round"/>
<polyline points="398.6,1608.4 404.7,1620.6 416.9,1628.0 428.0,1626.7" fill="none" stroke-width="9.4" stroke-linecap="round" stroke-linejoin="round"/>
<polyline points="443.9,1487.0 452.2,1464.0" fill="none" stroke-width="9.4" stroke-linecap="round" stroke-linejoin="round"/>
<polyline points="504.9,1460.2 512.2,1461.4" fill="none" stroke-width="9.4" stroke-linecap="round" stroke-linejoin="round"/>
<polyline points="482.9,1637.8 476.7,1654.9" fill="none" stroke-width="9.4" stroke-linecap="round" stroke-linejoin="round"/>
<polyline points="544.1,1661.0 538.0,1665.9 529.4,1670.8 525.7,1676.9" fill="none" stroke-width="9.4" stroke-linecap="round" stroke-linejoin="round"/>
<polyline points="574.7,1640.2 586.9,1642.7 599.2,1639.0" fill="none" stroke-width="9.4" stroke-linecap="round" stroke-linejoin="round"/>
<polyline points="633.5,1619.4 638.4,1632.9 645.7,1642.7 655.5,1640.2 660.4,1637.8" fill="none" stroke-width="9.4" stroke-linecap="round" stroke-linejoin="round"/>
<polyline points="670.2,1552.1 673.9,1542.2 684.9,1539.8" fill="none" stroke-width="9.4" stroke-linecap="round" stroke-linejoin="round"/>
<polyline points="688.6,1605.9 699.6,1620.6 709.4,1623.1 719.2,1616.9" fill="none" stroke-width="9.4" stroke-linecap="round" stroke-linejoin="round"/>
<polyline points="727.8,1559.4 733.9,1542.2 737.6,1537.3 744.7,1541.0" fill="none" stroke-width="9.4" stroke-linecap="round" stroke-linejoin="round"/>
<polyline points="856.1,1474.9 860.3,1460.2" fill="none" stroke-width="9.4" stroke-linecap="round" stroke-linejoin="round"/>
<polyline points="907.6,1446.7 914.9,1451.6 919.8,1466.3" fill="none" stroke-width="9.4" stroke-linecap="round" stroke-linejoin="round"/>
<polyline points="881.8,1672.0 874.5,1686.7" fill="none" stroke-width="9.4" stroke-linecap="round" stroke-linejoin="round"/>
<polyline points="930.8,1635.3 943.1,1631.6 954.1,1629.2" fill="none" stroke-width="9.4" stroke-linecap="round" stroke-linejoin="round"/>
<polyline points="966.3,1515.3 971.2,1503.1 981.0,1509.2" fill="none" stroke-width="9.4" stroke-linecap="round" stroke-linejoin="round"/>
<polyline points="983.5,1619.4 990.8,1632.9 995.7,1640.2" fill="none" stroke-width="9.4" stroke-linecap="round" stroke-linejoin="round"/>
<polyline points="1008.0,1654.9 1015.3,1662.3" fill="none" stroke-width="9.4" stroke-linecap="round" stroke-linejoin="round"/>
<polyline points="1021.4,1427.1 1027.3,1446.7 1034.7,1451.6" fill="none" stroke-width="9.4" stroke-linecap="round" stroke-linejoin="round"/>
<polyline points="1076.3,1450.4 1086.1,1456.5 1093.5,1466.3" fill="none" stroke-width="9.4" stroke-linecap="round" stroke-linejoin="round"/>
<polyline points="1166.9,1347.6 1173.1,1339.0 1179.2,1346.3 1182.9,1356.1" fill="none" stroke-width="9.4" stroke-linecap="round" stroke-linejoin="round"/>
<polyline points="1189.0,1400.2 1193.9,1413.7" fill="none" stroke-width="9.4" stroke-linecap="round" stroke-linejoin="round"/>
<polyline points="1195.1,1424.7 1198.8,1435.7 1206.1,1440.6 1213.5,1441.8" fill="none" stroke-width="9.4" stroke-linecap="round" stroke-linejoin="round"/>
<polyline points="1227.7,1339.0 1233.1,1319.4 1240.4,1301.0" fill="none" stroke-width="9.4" stroke-linecap="round" stroke-linejoin="round"/>
<polyline points="1258.8,1390.4 1262.5,1399.0" fill="none" stroke-width="9.4" stroke-linecap="round" stroke-linejoin="round"/>
<polyline points="1266.1,1429.6 1268.6,1436.9" fill="none" stroke-width="9.4" stroke-linecap="round" stroke-linejoin="round"/>
<polyline points="1302.9,1656.1 1296.7,1672.0 1290.6,1684.3 1279.6,1681.8" fill="none" stroke-width="9.4" stroke-linecap="round" stroke-linejoin="round"/>
<polyline points="1064.1,1676.9 1059.2,1681.8" fill="none" stroke-width="9.4" stroke-linecap="round" stroke-linejoin="round"/>
<polyline points="1110.6,1667.1 1105.7,1679.4" fill="none" stroke-width="9.4" stroke-linecap="round" stroke-linejoin="round"/>
<polyline points="1376.1,1421.0 1383.5,1414.9 1387.1,1400.2 1394.5,1388.0 1406.7,1379.4 1417.8,1384.3 1421.4,1390.4" fill="none" stroke-width="9.4" stroke-linecap="round" stroke-linejoin="round"/>
<polyline points="1425.1,1414.9 1430.0,1425.9 1439.8,1433.3 1444.7,1438.2" fill="none" stroke-width="9.4" stroke-linecap="round" stroke-linejoin="round"/>
<polyline points="1458.9,1380.6 1463.1,1365.9 1468.7,1353.7" fill="none" stroke-width="9.4" stroke-linecap="round" stroke-linejoin="round"/>
<polyline points="1327.1,1478.6 1323.5,1485.9" fill="none" stroke-width="9.4" stroke-linecap="round" stroke-linejoin="round"/>
<polyline points="1341.8,1684.3 1349.2,1691.6 1359.0,1675.7" fill="none" stroke-width="9.4" stroke-linecap="round" stroke-linejoin="round"/>
<polyline points="1505.9,1630.4 1513.3,1629.2" fill="none" stroke-width="9.4" stroke-linecap="round" stroke-linejoin="round"/>
<polyline points="1559.8,1516.5 1552.5,1525.1 1551.2,1534.9" fill="none" stroke-width="9.4" stroke-linecap="round" stroke-linejoin="round"/>
<polyline points="1579.4,1646.3 1584.3,1652.5 1594.1,1640.2" fill="none" stroke-width="9.4" stroke-linecap="round" stroke-linejoin="round"/>
<polyline points="1634.3,1320.6 1636.7,1310.8 1644.1,1299.8 1658.8,1296.1" fill="none" stroke-width="9.4" stroke-linecap="round" stroke-linejoin="round"/>
<polyline points="1611.0,1446.7 1617.1,1441.8 1622.0,1439.4" fill="none" stroke-width="9.4" stroke-linecap="round" stroke-linejoin="round"/>
<polyline points="1663.7,1449.2 1671.0,1459.0 1678.4,1461.4" fill="none" stroke-width="9.4" stroke-linecap="round" stroke-linejoin="round"/>
<polyline points="1733.5,1452.9 1724.9,1463.9" fill="none" stroke-width="9.4" stroke-linecap="round" stroke-linejoin="round"/>
<polyline points="1780.0,1428.4 1786.1,1441.8 1793.5,1455.3" fill="none" stroke-width="9.4" stroke-linecap="round" stroke-linejoin="round"/>
<polyline points="1809.4,1314.5 1815.5,1301.0 1820.4,1297.3" fill="none" stroke-width="9.4" stroke-linecap="round" stroke-linejoin="round"/>
<polyline points="1838.8,1430.8 1842.5,1444.3 1854.7,1455.3" fill="none" stroke-width="9.4" stroke-linecap="round" stroke-linejoin="round"/>
<polyline points="1711.4,1650.0 1702.9,1662.3 1698.0,1670.8" fill="none" stroke-width="9.4" stroke-linecap="round" stroke-linejoin="round"/>
<polyline points="1651.4,1703.9 1653.9,1696.5" fill="none" stroke-width="9.4" stroke-linecap="round" stroke-linejoin="round"/>
<polyline points="1827.8,1684.3 1824.1,1699.0 1821.6,1706.3" fill="none" stroke-width="9.4" stroke-linecap="round" stroke-linejoin="round"/>
<polyline points="1907.8,1503.1 1901.6,1512.9 1896.7,1525.2" fill="none" stroke-width="9.4" stroke-linecap="round" stroke-linejoin="round"/>
<polyline points="1970.2,1528.8 1962.9,1537.4 1958.0,1544.8" fill="none" stroke-width="9.4" stroke-linecap="round" stroke-linejoin="round"/>
<polyline points="1917.6,1596.2 1923.7,1604.8 1933.5,1604.8 1944.5,1602.3" fill="none" stroke-width="9.4" stroke-linecap="round" stroke-linejoin="round"/>
<polyline points="1976.4,1602.3 1982.5,1613.3 1992.3,1619.5 2000.8,1629.3" fill="none" stroke-width="9.4" stroke-linecap="round" stroke-linejoin="round"/>
<polyline points="2014.8,1520.3 2019.2,1505.6" fill="none" stroke-width="9.4" stroke-linecap="round" stroke-linejoin="round"/>
<circle cx="252.9" cy="1397.8" r="4.4" stroke="none"/>
<circle cx="282.2" cy="1407.6" r="4.4" stroke="none"/>
<circle cx="279.3" cy="1431.6" r="4.4" stroke="none"/>
<circle cx="284.2" cy="1359.1" r="4.4" stroke="none"/>
<circle cx="287.6" cy="1315.7" r="4.4" stroke="none"/>
<circle cx="289.6" cy="1296.1" r="4.4" stroke="none"/>
<circle cx="340.5" cy="1321.8" r="4.4" stroke="none"/>
<circle cx="338.1" cy="1395.8" r="4.4" stroke="none"/>
<circle cx="317.8" cy="1527.6" r="4.4" stroke="none"/>
<circle cx="197.8" cy="1580.9" r="4.4" stroke="none"/>
<circle cx="165.2" cy="1648.8" r="4.4" stroke="none"/>
<circle cx="316" cy="1614.5" r="4.4" stroke="none"/>
<circle cx="292" cy="1696.5" r="4.4" stroke="none"/>
<circle cx="343.5" cy="1691.9" r="4.4" stroke="none"/>
<circle cx="382.2" cy="1545.9" r="4.4" stroke="none"/>
<circle cx="379" cy="1560.6" r="4.4" stroke="none"/>
<circle cx="377.3" cy="1575.3" r="4.4" stroke="none"/>
<circle cx="396.1" cy="1576" r="4.4" stroke="none"/>
<circle cx="374.1" cy="1597.4" r="4.4" stroke="none"/>
<circle cx="371.6" cy="1614.5" r="4.4" stroke="none"/>
<circle cx="430.4" cy="1603.5" r="4.4" stroke="none"/>
<circle cx="432.9" cy="1560.6" r="4.4" stroke="none"/>
<circle cx="435.3" cy="1538.6" r="4.4" stroke="none"/>
<circle cx="436.5" cy="1521.4" r="4.4" stroke="none"/>
<circle cx="459.1" cy="1295.4" r="4.4" stroke="none"/>
<circle cx="457.1" cy="1337.8" r="4.4" stroke="none"/>
<circle cx="517.9" cy="1322.6" r="4.4" stroke="none"/>
<circle cx="515.4" cy="1386" r="4.4" stroke="none"/>
<circle cx="454.2" cy="1443.8" r="4.4" stroke="none"/>
<circle cx="490.9" cy="1486.7" r="4.4" stroke="none"/>
<circle cx="488.5" cy="1592" r="4.4" stroke="none"/>
<circle cx="486" cy="1628" r="4.4" stroke="none"/>
<circle cx="469.4" cy="1676.9" r="4.4" stroke="none"/>
<circle cx="466.9" cy="1685.5" r="4.4" stroke="none"/>
<circle cx="464" cy="1694.1" r="4.4" stroke="none"/>
<circle cx="462" cy="1705.1" r="4.4" stroke="none"/>
<circle cx="557.6" cy="1556.9" r="4.4" stroke="none"/>
<circle cx="554.6" cy="1576.5" r="4.4" stroke="none"/>
<circle cx="552.2" cy="1598.6" r="4.4" stroke="none"/>
<circle cx="571" cy="1602.2" r="4.4" stroke="none"/>
<circle cx="549" cy="1618.9" r="4.4" stroke="none"/>
<circle cx="547.3" cy="1650" r="4.4" stroke="none"/>
<circle cx="523.3" cy="1688" r="4.4" stroke="none"/>
<circle cx="520.8" cy="1706.3" r="4.4" stroke="none"/>
<circle cx="615.1" cy="1541" r="4.4" stroke="none"/>
<circle cx="612.7" cy="1555" r="4.4" stroke="none"/>
<circle cx="610.7" cy="1568.7" r="4.4" stroke="none"/>
<circle cx="607.8" cy="1588.3" r="4.4" stroke="none"/>
<circle cx="629.8" cy="1579" r="4.4" stroke="none"/>
<circle cx="605.3" cy="1601.8" r="4.4" stroke="none"/>
<circle cx="661.6" cy="1628" r="4.4" stroke="none"/>
<circle cx="664.1" cy="1603.5" r="4.4" stroke="none"/>
<circle cx="666.5" cy="1575.3" r="4.4" stroke="none"/>
<circle cx="668.3" cy="1562.3" r="4.4" stroke="none"/>
<circle cx="726.5" cy="1568" r="4.4" stroke="none"/>
<circle cx="745.9" cy="1590.7" r="4.4" stroke="none"/>
<circle cx="794.9" cy="1522.7" r="4.4" stroke="none"/>
<circle cx="792.4" cy="1532" r="4.4" stroke="none"/>
<circle cx="790.7" cy="1544.2" r="4.4" stroke="none"/>
<circle cx="788.3" cy="1554.5" r="4.4" stroke="none"/>
<circle cx="805.4" cy="1554.5" r="4.4" stroke="none"/>
<circle cx="785.8" cy="1568.7" r="4.4" stroke="none"/>
<circle cx="783.4" cy="1590" r="4.4" stroke="none"/>
<circle cx="780.2" cy="1605.9" r="4.4" stroke="none"/>
<circle cx="807.1" cy="1623.6" r="4.4" stroke="none"/>
<circle cx="809.6" cy="1634.1" r="4.4" stroke="none"/>
<circle cx="841.4" cy="1591.7" r="4.4" stroke="none"/>
<circle cx="839.5" cy="1608.9" r="4.4" stroke="none"/>
<circle cx="846.3" cy="1526.3" r="4.4" stroke="none"/>
<circle cx="848" cy="1508.7" r="4.4" stroke="none"/>
<circle cx="850.7" cy="1499.9" r="4.4" stroke="none"/>
<circle cx="853.7" cy="1487.9" r="4.4" stroke="none"/>
<circle cx="870.1" cy="1320.6" r="4.4" stroke="none"/>
<circle cx="868.4" cy="1350" r="4.4" stroke="none"/>
<circle cx="864.7" cy="1376.9" r="4.4" stroke="none"/>
<circle cx="899" cy="1487.1" r="4.4" stroke="none"/>
<circle cx="902.7" cy="1471.7" r="4.4" stroke="none"/>
<circle cx="904.4" cy="1459" r="4.4" stroke="none"/>
<circle cx="921" cy="1438.2" r="4.4" stroke="none"/>
<circle cx="897" cy="1614.5" r="4.4" stroke="none"/>
<circle cx="895.3" cy="1645.1" r="4.4" stroke="none"/>
<circle cx="891.6" cy="1656.1" r="4.4" stroke="none"/>
<circle cx="873.3" cy="1700.2" r="4.4" stroke="none"/>
<circle cx="924" cy="1681.8" r="4.4" stroke="none"/>
<circle cx="955.3" cy="1605.9" r="4.4" stroke="none"/>
<circle cx="958.2" cy="1596.1" r="4.4" stroke="none"/>
<circle cx="960.2" cy="1569.2" r="4.4" stroke="none"/>
<circle cx="963.9" cy="1544.7" r="4.4" stroke="none"/>
<circle cx="965.1" cy="1532.5" r="4.4" stroke="none"/>
<circle cx="1016.5" cy="1404.6" r="4.4" stroke="none"/>
<circle cx="1019" cy="1418.6" r="4.4" stroke="none"/>
<circle cx="824.3" cy="1654.9" r="4.4" stroke="none"/>
<circle cx="836.5" cy="1634.1" r="4.4" stroke="none"/>
<circle cx="777.8" cy="1630.4" r="4.4" stroke="none"/>
<circle cx="1053.1" cy="1298.6" r="4.4" stroke="none"/>
<circle cx="1050.6" cy="1314.5" r="4.4" stroke="none"/>
<circle cx="1048.2" cy="1340.2" r="4.4" stroke="none"/>
<circle cx="1071.9" cy="1342.7" r="4.4" stroke="none"/>
<circle cx="1100.8" cy="1342.7" r="4.4" stroke="none"/>
<circle cx="1043.3" cy="1390.4" r="4.4" stroke="none"/>
<circle cx="1098.9" cy="1403.4" r="4.4" stroke="none"/>
<circle cx="1040.1" cy="1417.3" r="4.4" stroke="none"/>
<circle cx="1038.4" cy="1437.7" r="4.4" stroke="none"/>
<circle cx="1073.9" cy="1441.8" r="4.4" stroke="none"/>
<circle cx="1095.9" cy="1454.1" r="4.4" stroke="none"/>
<circle cx="1135.1" cy="1476.6" r="4.4" stroke="none"/>
<circle cx="1133.1" cy="1494.5" r="4.4" stroke="none"/>
<circle cx="1154.7" cy="1445.5" r="4.4" stroke="none"/>
<circle cx="1157.1" cy="1423.5" r="4.4" stroke="none"/>
<circle cx="1160.1" cy="1403.4" r="4.4" stroke="none"/>
<circle cx="1162" cy="1380.1" r="4.4" stroke="none"/>
<circle cx="1164.5" cy="1361" r="4.4" stroke="none"/>
<circle cx="1184.6" cy="1363" r="4.4" stroke="none"/>
<circle cx="1186.5" cy="1381.1" r="4.4" stroke="none"/>
<circle cx="1213.5" cy="1425.2" r="4.4" stroke="none"/>
<circle cx="1215.2" cy="1408.8" r="4.4" stroke="none"/>
<circle cx="1218.4" cy="1394.1" r="4.4" stroke="none"/>
<circle cx="1220.3" cy="1375.7" r="4.4" stroke="none"/>
<circle cx="1222.8" cy="1361" r="4.4" stroke="none"/>
<circle cx="1225.2" cy="1348.8" r="4.4" stroke="none"/>
<circle cx="1254.6" cy="1311.6" r="4.4" stroke="none"/>
<circle cx="1274.2" cy="1314.5" r="4.4" stroke="none"/>
<circle cx="1257.1" cy="1363.5" r="4.4" stroke="none"/>
<circle cx="1271" cy="1374" r="4.4" stroke="none"/>
<circle cx="1264.4" cy="1412.4" r="4.4" stroke="none"/>
<circle cx="1313.9" cy="1521.4" r="4.4" stroke="none"/>
<circle cx="1312.7" cy="1542.7" r="4.4" stroke="none"/>
<circle cx="1308.5" cy="1610.8" r="4.4" stroke="none"/>
<circle cx="1305.3" cy="1637.8" r="4.4" stroke="none"/>
<circle cx="1130.2" cy="1621.1" r="4.4" stroke="none"/>
<circle cx="1056.7" cy="1691.6" r="4.4" stroke="none"/>
<circle cx="1055.5" cy="1700.2" r="4.4" stroke="none"/>
<circle cx="1070.2" cy="1700.2" r="4.4" stroke="none"/>
<circle cx="1104.5" cy="1701.4" r="4.4" stroke="none"/>
<circle cx="1252.2" cy="1701.4" r="4.4" stroke="none"/>
<circle cx="1241.6" cy="1707.5" r="4.4" stroke="none"/>
<circle cx="1366.3" cy="1361.5" r="4.4" stroke="none"/>
<circle cx="1368.8" cy="1389.9" r="4.4" stroke="none"/>
<circle cx="1371.2" cy="1402.2" r="4.4" stroke="none"/>
<circle cx="1373.2" cy="1410.7" r="4.4" stroke="none"/>
<circle cx="1422.2" cy="1403.9" r="4.4" stroke="none"/>
<circle cx="1449.6" cy="1423.5" r="4.4" stroke="none"/>
<circle cx="1451.6" cy="1412.4" r="4.4" stroke="none"/>
<circle cx="1454.5" cy="1399" r="4.4" stroke="none"/>
<circle cx="1456.4" cy="1389.9" r="4.4" stroke="none"/>
<circle cx="1471.1" cy="1343.4" r="4.4" stroke="none"/>
<circle cx="1472.9" cy="1332.9" r="4.4" stroke="none"/>
<circle cx="1476" cy="1318.9" r="4.4" stroke="none"/>
<circle cx="1483.4" cy="1312" r="4.4" stroke="none"/>
<circle cx="1479" cy="1296.1" r="4.4" stroke="none"/>
<circle cx="1485.1" cy="1334.8" r="4.4" stroke="none"/>
<circle cx="1488.3" cy="1399" r="4.4" stroke="none"/>
<circle cx="1490" cy="1427.6" r="4.4" stroke="none"/>
<circle cx="1493.2" cy="1445.8" r="4.4" stroke="none"/>
<circle cx="1504.7" cy="1481.8" r="4.4" stroke="none"/>
<circle cx="1330.1" cy="1461.4" r="4.4" stroke="none"/>
<circle cx="1317.3" cy="1503.1" r="4.4" stroke="none"/>
<circle cx="1314.9" cy="1521.4" r="4.4" stroke="none"/>
<circle cx="1313.7" cy="1542.2" r="4.4" stroke="none"/>
<circle cx="1335.7" cy="1661" r="4.4" stroke="none"/>
<circle cx="1480.2" cy="1689.2" r="4.4" stroke="none"/>
<circle cx="1546.3" cy="1549.6" r="4.4" stroke="none"/>
<circle cx="1563.5" cy="1534.9" r="4.4" stroke="none"/>
<circle cx="1544.6" cy="1566.7" r="4.4" stroke="none"/>
<circle cx="1541.4" cy="1585.1" r="4.4" stroke="none"/>
<circle cx="1539" cy="1605.9" r="4.4" stroke="none"/>
<circle cx="1565.9" cy="1591.7" r="4.4" stroke="none"/>
<circle cx="1568.4" cy="1605.9" r="4.4" stroke="none"/>
<circle cx="1574.5" cy="1634.1" r="4.4" stroke="none"/>
<circle cx="1597" cy="1608.4" r="4.4" stroke="none"/>
<circle cx="1601.8" cy="1541" r="4.4" stroke="none"/>
<circle cx="1608.5" cy="1468.8" r="4.4" stroke="none"/>
<circle cx="1610" cy="1446.7" r="4.4" stroke="none"/>
<circle cx="1685.2" cy="1300.3" r="4.4" stroke="none"/>
<circle cx="1631.3" cy="1339.7" r="4.4" stroke="none"/>
<circle cx="1628.9" cy="1364.7" r="4.4" stroke="none"/>
<circle cx="1682" cy="1359.1" r="4.4" stroke="none"/>
<circle cx="1626.4" cy="1395.8" r="4.4" stroke="none"/>
<circle cx="1624" cy="1412.4" r="4.4" stroke="none"/>
<circle cx="1660" cy="1471.7" r="4.4" stroke="none"/>
<circle cx="1658.3" cy="1503.1" r="4.4" stroke="none"/>
<circle cx="1756.7" cy="1301" r="4.4" stroke="none"/>
<circle cx="1754.8" cy="1310.8" r="4.4" stroke="none"/>
<circle cx="1753.1" cy="1321.3" r="4.4" stroke="none"/>
<circle cx="1749.9" cy="1334.8" r="4.4" stroke="none"/>
<circle cx="1748.2" cy="1356.6" r="4.4" stroke="none"/>
<circle cx="1745" cy="1380.1" r="4.4" stroke="none"/>
<circle cx="1743.3" cy="1397" r="4.4" stroke="none"/>
<circle cx="1741.6" cy="1411.7" r="4.4" stroke="none"/>
<circle cx="1738.4" cy="1436.2" r="4.4" stroke="none"/>
<circle cx="1720.5" cy="1478.1" r="4.4" stroke="none"/>
<circle cx="1770.2" cy="1302.7" r="4.4" stroke="none"/>
<circle cx="1772.2" cy="1357.8" r="4.4" stroke="none"/>
<circle cx="1775.1" cy="1398.5" r="4.4" stroke="none"/>
<circle cx="1776.8" cy="1417.3" r="4.4" stroke="none"/>
<circle cx="1799.6" cy="1423" r="4.4" stroke="none"/>
<circle cx="1797.1" cy="1439.4" r="4.4" stroke="none"/>
<circle cx="1800.8" cy="1391.6" r="4.4" stroke="none"/>
<circle cx="1804.5" cy="1356.9" r="4.4" stroke="none"/>
<circle cx="1806.4" cy="1332.1" r="4.4" stroke="none"/>
<circle cx="1833.1" cy="1402.7" r="4.4" stroke="none"/>
<circle cx="1835.1" cy="1421" r="4.4" stroke="none"/>
<circle cx="1855.9" cy="1436.9" r="4.4" stroke="none"/>
<circle cx="1857.1" cy="1423" r="4.4" stroke="none"/>
<circle cx="1860.3" cy="1397" r="4.4" stroke="none"/>
<circle cx="1862" cy="1361.8" r="4.4" stroke="none"/>
<circle cx="1865.2" cy="1333.3" r="4.4" stroke="none"/>
<circle cx="1867.4" cy="1314" r="4.4" stroke="none"/>
<circle cx="1869.4" cy="1300.3" r="4.4" stroke="none"/>
<circle cx="1716.3" cy="1588" r="4.4" stroke="none"/>
<circle cx="1713.9" cy="1626" r="4.4" stroke="none"/>
<circle cx="1765.3" cy="1703.9" r="4.4" stroke="none"/>
<circle cx="1830.2" cy="1669.6" r="4.4" stroke="none"/>
<circle cx="1886.5" cy="1648.9" r="4.4" stroke="none"/>
<circle cx="1884.5" cy="1657.4" r="4.4" stroke="none"/>
<circle cx="1882" cy="1666" r="4.4" stroke="none"/>
<circle cx="1878.4" cy="1678.3" r="4.4" stroke="none"/>
<circle cx="1876.7" cy="1689.3" r="4.4" stroke="none"/>
<circle cx="1873.5" cy="1697.8" r="4.4" stroke="none"/>
<circle cx="1871" cy="1706.4" r="4.4" stroke="none"/>
<circle cx="1890.6" cy="1568" r="4.4" stroke="none"/>
<circle cx="1950.6" cy="1569.2" r="4.4" stroke="none"/>
<circle cx="1947" cy="1585.2" r="4.4" stroke="none"/>
<circle cx="1973.9" cy="1591.8" r="4.4" stroke="none"/>
<circle cx="2003.3" cy="1617" r="4.4" stroke="none"/>
<circle cx="2006.5" cy="1588.8" r="4.4" stroke="none"/>
<circle cx="2009.4" cy="1565.6" r="4.4" stroke="none"/>
<circle cx="2009.9" cy="1549.6" r="4.4" stroke="none"/>
<circle cx="2013.1" cy="1532.5" r="4.4" stroke="none"/>
<circle cx="1861.2" cy="1423.5" r="4.4" stroke="none"/>
</g>
<polyline points="155.5,1384.5 195.4,1384.5 253.7,1420.7 312.0,1490.4 370.4,1371.3 428.7,1314.2 487.0,1455.0 545.3,1424.5 603.6,1423.3 662.0,1460.0 720.3,1373.8 778.6,1351.0 836.9,1439.7 895.2,1435.9 953.6,1361.1 1011.9,1346.4 1070.2,1401.7 1128.5,1465.1 1186.8,1453.7 1245.2,1527.2 1303.5,1500.6 1361.8,1475.2 1420.1,1446.1 1478.4,1476.5 1536.8,1437.2 1595.1,1477.8 1653.4,1565.2 1711.7,1486.6 1770.0,1522.1 1828.4,1502.3 1886.7,1477.8 1945.0,1319.9 1991.8,1340.9 1993.0,1346.7 2020.5,1346.7" fill="none" stroke="#f6f8f9" stroke-width="15" stroke-linejoin="miter"/>
<polyline points="155.5,1630.0 195.4,1630.0 253.7,1600.7 312.0,1679.3 370.4,1633.7 428.7,1681.9 487.0,1660.3 545.3,1631.2 603.6,1623.6 662.0,1590.6 720.3,1583.0 778.6,1645.1 836.9,1645.1 895.2,1671.7 953.6,1652.7 1011.9,1643.8 1070.2,1656.5 1128.5,1664.1 1186.8,1571.6 1245.2,1688.2 1303.5,1698.4 1361.8,1660.3 1420.1,1586.8 1478.4,1673.0 1536.8,1624.8 1595.1,1618.5 1653.4,1693.3 1711.7,1670.5 1770.0,1642.6 1828.4,1647.8 1886.7,1610.3 1945.0,1552.7 1991.8,1571.4 1993.0,1575.7 2020.5,1575.7" fill="none" stroke="#f6f8f9" stroke-width="15" stroke-linejoin="miter"/>
<polyline points="155.5,1480.3 195.4,1480.3 253.7,1498.0 312.0,1576.7 370.4,1515.5 428.7,1496.8 487.0,1553.8 545.3,1543.7 603.6,1531.0 662.0,1527.2 720.3,1482.8 778.6,1491.7 836.9,1543.7 895.2,1560.2 953.6,1504.4 1011.9,1467.6 1070.2,1538.6 1128.5,1545.0 1186.8,1496.8 1245.2,1598.2 1303.5,1586.8 1361.8,1567.8 1420.1,1509.5 1478.4,1574.1 1536.8,1536.1 1595.1,1569.0 1653.4,1609.6 1711.7,1567.8 1770.0,1556.4 1828.4,1552.7 1886.7,1561.3 1945.0,1459.0 1992.0,1464.8 2020.5,1464.8" fill="none" stroke="#f6f8f9" stroke-width="16" stroke-linejoin="miter"/>
<line x1="194.5" y1="1709.7" x2="2020.5" y2="1709.7" stroke="#000" stroke-width="2" stroke-dasharray="8 6"/>
<line x1="194.5" y1="1640.55" x2="2020.5" y2="1640.55" stroke="#000" stroke-width="2" stroke-dasharray="8 6"/>
<line x1="194.5" y1="1571.4" x2="2020.5" y2="1571.4" stroke="#000" stroke-width="2" stroke-dasharray="8 6"/>
<line x1="194.5" y1="1502.25" x2="2020.5" y2="1502.25" stroke="#000" stroke-width="2" stroke-dasharray="8 6"/>
<line x1="194.5" y1="1433.1" x2="2020.5" y2="1433.1" stroke="#000" stroke-width="2" stroke-dasharray="8 6"/>
<line x1="194.5" y1="1363.95" x2="2020.5" y2="1363.95" stroke="#000" stroke-width="2" stroke-dasharray="8 6"/>
<polyline points="155.5,1384.5 195.4,1384.5 253.7,1420.7 312.0,1490.4 370.4,1371.3 428.7,1314.2 487.0,1455.0 545.3,1424.5 603.6,1423.3 662.0,1460.0 720.3,1373.8 778.6,1351.0 836.9,1439.7 895.2,1435.9 953.6,1361.1 1011.9,1346.4 1070.2,1401.7 1128.5,1465.1 1186.8,1453.7 1245.2,1527.2 1303.5,1500.6 1361.8,1475.2 1420.1,1446.1 1478.4,1476.5 1536.8,1437.2 1595.1,1477.8 1653.4,1565.2 1711.7,1486.6 1770.0,1522.1 1828.4,1502.3 1886.7,1477.8 1945.0,1319.9 1991.8,1340.9 1993.0,1346.7 2020.5,1346.7" fill="none" stroke="#3e706e" stroke-width="6" stroke-linejoin="miter"/>
<polyline points="155.5,1630.0 195.4,1630.0 253.7,1600.7 312.0,1679.3 370.4,1633.7 428.7,1681.9 487.0,1660.3 545.3,1631.2 603.6,1623.6 662.0,1590.6 720.3,1583.0 778.6,1645.1 836.9,1645.1 895.2,1671.7 953.6,1652.7 1011.9,1643.8 1070.2,1656.5 1128.5,1664.1 1186.8,1571.6 1245.2,1688.2 1303.5,1698.4 1361.8,1660.3 1420.1,1586.8 1478.4,1673.0 1536.8,1624.8 1595.1,1618.5 1653.4,1693.3 1711.7,1670.5 1770.0,1642.6 1828.4,1647.8 1886.7,1610.3 1945.0,1552.7 1991.8,1571.4 1993.0,1575.7 2020.5,1575.7" fill="none" stroke="#3e706e" stroke-width="6" stroke-linejoin="miter"/>
<polyline points="155.5,1480.3 195.4,1480.3 253.7,1498.0 312.0,1576.7 370.4,1515.5 428.7,1496.8 487.0,1553.8 545.3,1543.7 603.6,1531.0 662.0,1527.2 720.3,1482.8 778.6,1491.7 836.9,1543.7 895.2,1560.2 953.6,1504.4 1011.9,1467.6 1070.2,1538.6 1128.5,1545.0 1186.8,1496.8 1245.2,1598.2 1303.5,1586.8 1361.8,1567.8 1420.1,1509.5 1478.4,1574.1 1536.8,1536.1 1595.1,1569.0 1653.4,1609.6 1711.7,1567.8 1770.0,1556.4 1828.4,1552.7 1886.7,1561.3 1945.0,1459.0 1992.0,1464.8 2020.5,1464.8" fill="none" stroke="#3e706e" stroke-width="8.8" stroke-dasharray="7.8 6.4" stroke-dashoffset="8.7"/>
<line x1="155.5" y1="1709.7" x2="194" y2="1709.7" stroke="#3e706e" stroke-width="1.8"/>
<line x1="155.5" y1="1695.8700000000001" x2="175" y2="1695.8700000000001" stroke="#3e706e" stroke-width="1.8"/>
<line x1="175" y1="1695.8700000000001" x2="184" y2="1695.8700000000001" stroke="#000" stroke-width="1.8"/>
<line x1="155.5" y1="1682.04" x2="175" y2="1682.04" stroke="#3e706e" stroke-width="1.8"/>
<line x1="175" y1="1682.04" x2="184" y2="1682.04" stroke="#000" stroke-width="1.8"/>
<line x1="155.5" y1="1668.21" x2="175" y2="1668.21" stroke="#3e706e" stroke-width="1.8"/>
<line x1="175" y1="1668.21" x2="184" y2="1668.21" stroke="#000" stroke-width="1.8"/>
<line x1="155.5" y1="1654.38" x2="175" y2="1654.38" stroke="#3e706e" stroke-width="1.8"/>
<line x1="175" y1="1654.38" x2="184" y2="1654.38" stroke="#000" stroke-width="1.8"/>
<line x1="155.5" y1="1640.55" x2="194" y2="1640.55" stroke="#3e706e" stroke-width="1.8"/>
<line x1="155.5" y1="1626.72" x2="175" y2="1626.72" stroke="#3e706e" stroke-width="1.8"/>
<line x1="175" y1="1626.72" x2="184" y2="1626.72" stroke="#000" stroke-width="1.8"/>
<line x1="155.5" y1="1612.89" x2="175" y2="1612.89" stroke="#3e706e" stroke-width="1.8"/>
<line x1="175" y1="1612.89" x2="184" y2="1612.89" stroke="#000" stroke-width="1.8"/>
<line x1="155.5" y1="1599.06" x2="175" y2="1599.06" stroke="#3e706e" stroke-width="1.8"/>
<line x1="175" y1="1599.06" x2="184" y2="1599.06" stroke="#000" stroke-width="1.8"/>
<line x1="155.5" y1="1585.23" x2="175" y2="1585.23" stroke="#3e706e" stroke-width="1.8"/>
<line x1="175" y1="1585.23" x2="184" y2="1585.23" stroke="#000" stroke-width="1.8"/>
<line x1="155.5" y1="1571.4" x2="194" y2="1571.4" stroke="#3e706e" stroke-width="1.8"/>
<line x1="155.5" y1="1557.5700000000002" x2="175" y2="1557.5700000000002" stroke="#3e706e" stroke-width="1.8"/>
<line x1="175" y1="1557.5700000000002" x2="184" y2="1557.5700000000002" stroke="#000" stroke-width="1.8"/>
<line x1="155.5" y1="1543.74" x2="175" y2="1543.74" stroke="#3e706e" stroke-width="1.8"/>
<line x1="175" y1="1543.74" x2="184" y2="1543.74" stroke="#000" stroke-width="1.8"/>
<line x1="155.5" y1="1529.91" x2="175" y2="1529.91" stroke="#3e706e" stroke-width="1.8"/>
<line x1="175" y1="1529.91" x2="184" y2="1529.91" stroke="#000" stroke-width="1.8"/>
<line x1="155.5" y1="1516.08" x2="175" y2="1516.08" stroke="#3e706e" stroke-width="1.8"/>
<line x1="175" y1="1516.08" x2="184" y2="1516.08" stroke="#000" stroke-width="1.8"/>
<line x1="155.5" y1="1502.25" x2="194" y2="1502.25" stroke="#3e706e" stroke-width="1.8"/>
<line x1="155.5" y1="1488.42" x2="175" y2="1488.42" stroke="#3e706e" stroke-width="1.8"/>
<line x1="175" y1="1488.42" x2="184" y2="1488.42" stroke="#000" stroke-width="1.8"/>
<line x1="155.5" y1="1474.5900000000001" x2="175" y2="1474.5900000000001" stroke="#3e706e" stroke-width="1.8"/>
<line x1="175" y1="1474.5900000000001" x2="184" y2="1474.5900000000001" stroke="#000" stroke-width="1.8"/>
<line x1="155.5" y1="1460.76" x2="175" y2="1460.76" stroke="#3e706e" stroke-width="1.8"/>
<line x1="175" y1="1460.76" x2="184" y2="1460.76" stroke="#000" stroke-width="1.8"/>
<line x1="155.5" y1="1446.93" x2="175" y2="1446.93" stroke="#3e706e" stroke-width="1.8"/>
<line x1="175" y1="1446.93" x2="184" y2="1446.93" stroke="#000" stroke-width="1.8"/>
<line x1="155.5" y1="1433.1" x2="194" y2="1433.1" stroke="#3e706e" stroke-width="1.8"/>
<line x1="155.5" y1="1419.27" x2="175" y2="1419.27" stroke="#3e706e" stroke-width="1.8"/>
<line x1="175" y1="1419.27" x2="184" y2="1419.27" stroke="#000" stroke-width="1.8"/>
<line x1="155.5" y1="1405.44" x2="175" y2="1405.44" stroke="#3e706e" stroke-width="1.8"/>
<line x1="175" y1="1405.44" x2="184" y2="1405.44" stroke="#000" stroke-width="1.8"/>
<line x1="155.5" y1="1391.6100000000001" x2="175" y2="1391.6100000000001" stroke="#3e706e" stroke-width="1.8"/>
<line x1="175" y1="1391.6100000000001" x2="184" y2="1391.6100000000001" stroke="#000" stroke-width="1.8"/>
<line x1="155.5" y1="1377.78" x2="175" y2="1377.78" stroke="#3e706e" stroke-width="1.8"/>
<line x1="175" y1="1377.78" x2="184" y2="1377.78" stroke="#000" stroke-width="1.8"/>
<line x1="155.5" y1="1363.95" x2="194" y2="1363.95" stroke="#3e706e" stroke-width="1.8"/>
<line x1="155.5" y1="1350.1200000000001" x2="175" y2="1350.1200000000001" stroke="#3e706e" stroke-width="1.8"/>
<line x1="175" y1="1350.1200000000001" x2="184" y2="1350.1200000000001" stroke="#000" stroke-width="1.8"/>
<line x1="155.5" y1="1336.29" x2="175" y2="1336.29" stroke="#3e706e" stroke-width="1.8"/>
<line x1="175" y1="1336.29" x2="184" y2="1336.29" stroke="#000" stroke-width="1.8"/>
<line x1="155.5" y1="1322.46" x2="175" y2="1322.46" stroke="#3e706e" stroke-width="1.8"/>
<line x1="175" y1="1322.46" x2="184" y2="1322.46" stroke="#000" stroke-width="1.8"/>
<line x1="155.5" y1="1308.63" x2="175" y2="1308.63" stroke="#3e706e" stroke-width="1.8"/>
<line x1="175" y1="1308.63" x2="184" y2="1308.63" stroke="#000" stroke-width="1.8"/>
<line x1="155.5" y1="1294.8000000000002" x2="194" y2="1294.8000000000002" stroke="#3e706e" stroke-width="1.8"/>
<line x1="194" y1="1296.0" x2="2020.5" y2="1296.0" stroke="#000" stroke-width="1.8"/>
<line x1="202.4" y1="1296.0" x2="202.4" y2="1303.7" stroke="#000" stroke-width="3"/>
<line x1="260.72" y1="1296.0" x2="260.72" y2="1300.0" stroke="#000" stroke-width="3"/>
<line x1="319.04" y1="1296.0" x2="319.04" y2="1303.7" stroke="#000" stroke-width="3"/>
<line x1="377.36" y1="1296.0" x2="377.36" y2="1300.0" stroke="#000" stroke-width="3"/>
<line x1="435.68" y1="1296.0" x2="435.68" y2="1303.7" stroke="#000" stroke-width="3"/>
<line x1="494.0" y1="1296.0" x2="494.0" y2="1300.0" stroke="#000" stroke-width="3"/>
<line x1="552.32" y1="1296.0" x2="552.32" y2="1303.7" stroke="#000" stroke-width="3"/>
<line x1="610.64" y1="1296.0" x2="610.64" y2="1300.0" stroke="#000" stroke-width="3"/>
<line x1="668.96" y1="1296.0" x2="668.96" y2="1303.7" stroke="#000" stroke-width="3"/>
<line x1="727.28" y1="1296.0" x2="727.28" y2="1300.0" stroke="#000" stroke-width="3"/>
<line x1="785.6" y1="1296.0" x2="785.6" y2="1303.7" stroke="#000" stroke-width="3"/>
<line x1="843.92" y1="1296.0" x2="843.92" y2="1300.0" stroke="#000" stroke-width="3"/>
<line x1="902.24" y1="1296.0" x2="902.24" y2="1303.7" stroke="#000" stroke-width="3"/>
<line x1="960.56" y1="1296.0" x2="960.56" y2="1300.0" stroke="#000" stroke-width="3"/>
<line x1="1018.88" y1="1296.0" x2="1018.88" y2="1303.7" stroke="#000" stroke-width="3"/>
<line x1="1077.2" y1="1296.0" x2="1077.2" y2="1300.0" stroke="#000" stroke-width="3"/>
<line x1="1135.52" y1="1296.0" x2="1135.52" y2="1303.7" stroke="#000" stroke-width="3"/>
<line x1="1193.8400000000001" y1="1296.0" x2="1193.8400000000001" y2="1300.0" stroke="#000" stroke-width="3"/>
<line x1="1252.16" y1="1296.0" x2="1252.16" y2="1303.7" stroke="#000" stroke-width="3"/>
<line x1="1310.48" y1="1296.0" x2="1310.48" y2="1300.0" stroke="#000" stroke-width="3"/>
<line x1="1368.8000000000002" y1="1296.0" x2="1368.8000000000002" y2="1303.7" stroke="#000" stroke-width="3"/>
<line x1="1427.1200000000001" y1="1296.0" x2="1427.1200000000001" y2="1300.0" stroke="#000" stroke-width="3"/>
<line x1="1485.44" y1="1296.0" x2="1485.44" y2="1303.7" stroke="#000" stroke-width="3"/>
<line x1="1543.76" y1="1296.0" x2="1543.76" y2="1300.0" stroke="#000" stroke-width="3"/>
<line x1="1602.0800000000002" y1="1296.0" x2="1602.0800000000002" y2="1303.7" stroke="#000" stroke-width="3"/>
<line x1="1660.4" y1="1296.0" x2="1660.4" y2="1300.0" stroke="#000" stroke-width="3"/>
<line x1="1718.72" y1="1296.0" x2="1718.72" y2="1303.7" stroke="#000" stroke-width="3"/>
<line x1="1777.0400000000002" y1="1296.0" x2="1777.0400000000002" y2="1300.0" stroke="#000" stroke-width="3"/>
<line x1="1835.3600000000001" y1="1296.0" x2="1835.3600000000001" y2="1303.7" stroke="#000" stroke-width="3"/>
<line x1="1893.68" y1="1296.0" x2="1893.68" y2="1300.0" stroke="#000" stroke-width="3"/>
<line x1="1952.0" y1="1296.0" x2="1952.0" y2="1303.7" stroke="#000" stroke-width="3"/>
<line x1="2010.3200000000002" y1="1296.0" x2="2010.3200000000002" y2="1300.0" stroke="#000" stroke-width="3"/>
<line x1="155.5" y1="1295.0" x2="155.5" y2="1709.7" stroke="#3e706e" stroke-width="2.8"/>
<text transform="translate(181.61,1279.50) scale(1.0900,1)" font-size="32.94" fill="#000" stroke="#000" stroke-width="0.6">01</text>
<text transform="translate(298.16,1279.50) scale(1.0900,1)" font-size="32.94" fill="#000" stroke="#000" stroke-width="0.6">03</text>
<text transform="translate(414.76,1279.50) scale(1.0900,1)" font-size="32.94" fill="#000" stroke="#000" stroke-width="0.6">05</text>
<text transform="translate(531.55,1279.50) scale(1.0900,1)" font-size="32.94" fill="#000" stroke="#000" stroke-width="0.6">07</text>
<text transform="translate(648.14,1279.50) scale(1.0900,1)" font-size="32.94" fill="#000" stroke="#000" stroke-width="0.6">09</text>
<text transform="translate(764.14,1279.50) scale(1.0900,1)" font-size="32.94" fill="#000" stroke="#000" stroke-width="0.6">11</text>
<text transform="translate(880.69,1279.50) scale(1.0900,1)" font-size="32.94" fill="#000" stroke="#000" stroke-width="0.6">13</text>
<text transform="translate(997.30,1279.50) scale(1.0900,1)" font-size="32.94" fill="#000" stroke="#000" stroke-width="0.6">15</text>
<text transform="translate(1114.09,1279.50) scale(1.0900,1)" font-size="32.94" fill="#000" stroke="#000" stroke-width="0.6">17</text>
<text transform="translate(1230.67,1279.50) scale(1.0900,1)" font-size="32.94" fill="#000" stroke="#000" stroke-width="0.6">19</text>
<text transform="translate(1347.81,1279.50) scale(1.0900,1)" font-size="32.94" fill="#000" stroke="#000" stroke-width="0.6">21</text>
<text transform="translate(1464.36,1279.50) scale(1.0900,1)" font-size="32.94" fill="#000" stroke="#000" stroke-width="0.6">23</text>
<text transform="translate(1580.96,1279.50) scale(1.0900,1)" font-size="32.94" fill="#000" stroke="#000" stroke-width="0.6">25</text>
<text transform="translate(1697.75,1279.50) scale(1.0900,1)" font-size="32.94" fill="#000" stroke="#000" stroke-width="0.6">27</text>
<text transform="translate(1814.34,1279.50) scale(1.0900,1)" font-size="32.94" fill="#000" stroke="#000" stroke-width="0.6">29</text>
<text transform="translate(1931.22,1279.50) scale(1.0900,1)" font-size="32.94" fill="#000" stroke="#000" stroke-width="0.6">31</text>
<text transform="translate(104.33,1320.30) scale(1.0939,1)" font-size="32.94" fill="#3e706e" stroke="#3e706e" stroke-width="0.6">30</text>
<text transform="translate(103.86,1379.10) scale(1.1101,1)" font-size="32.94" fill="#3e706e" stroke="#3e706e" stroke-width="0.6">25</text>
<text transform="translate(103.87,1447.70) scale(1.1070,1)" font-size="32.94" fill="#3e706e" stroke="#3e706e" stroke-width="0.6">20</text>
<text transform="translate(102.84,1516.80) scale(1.1390,1)" font-size="32.94" fill="#3e706e" stroke="#3e706e" stroke-width="0.6">15</text>
<text transform="translate(102.85,1586.00) scale(1.1357,1)" font-size="32.94" fill="#3e706e" stroke="#3e706e" stroke-width="0.6">10</text>
<text transform="translate(124.24,1655.10) scale(1.1077,1)" font-size="32.94" fill="#3e706e" stroke="#3e706e" stroke-width="0.6">5</text>
<text transform="translate(124.29,1709.00) scale(1.0987,1)" font-size="32.94" fill="#3e706e" stroke="#3e706e" stroke-width="0.6">0</text>
<text transform="translate(2032.23,1320.50) scale(1.0912,1)" font-size="32.94" fill="#6b4fa6" stroke="#6b4fa6" stroke-width="0.6">360</text>
<text transform="translate(2031.78,1414.00) scale(1.0997,1)" font-size="32.94" fill="#6b4fa6" stroke="#6b4fa6" stroke-width="0.6">270</text>
<text transform="translate(2030.79,1517.60) scale(1.1180,1)" font-size="32.94" fill="#6b4fa6" stroke="#6b4fa6" stroke-width="0.6">180</text>
<text transform="translate(2031.90,1620.00) scale(1.1033,1)" font-size="32.94" fill="#6b4fa6" stroke="#6b4fa6" stroke-width="0.6">90</text>
<text transform="translate(2032.19,1709.20) scale(1.0987,1)" font-size="32.94" fill="#6b4fa6" stroke="#6b4fa6" stroke-width="0.6">0</text>
<text transform="translate(69.00,1689.83) rotate(-90) scale(1.0626,1)" font-size="33.88" fill="#3e706e" stroke="#3e706e" stroke-width="0.6">Скорость ветра (km/h)</text>
<text transform="translate(2132.80,1685.26) rotate(-90) scale(1.0594,1)" font-size="34.07" fill="#6b4fa6" stroke="#6b4fa6" stroke-width="0.6">Направление ветра</text>
<ellipse cx="2108.6" cy="1334.6" rx="5.2" ry="3.9" fill="none" stroke="#6b4fa6" stroke-width="1.8"/>
<line x1="2187" y1="1246" x2="2187" y2="1289.7" stroke="#6b4fa6" stroke-width="5"/>
<polygon points="2178,1273.7 2196,1273.7 2187,1297.7" fill="#6b4fa6"/>
<line x1="2154.6" y1="1400" x2="2211.4" y2="1400" stroke="#6b4fa6" stroke-width="5"/>
<polygon points="2195.4,1391 2195.4,1409 2219.4,1400" fill="#6b4fa6"/>
<line x1="2187" y1="1554" x2="2187" y2="1510.3" stroke="#6b4fa6" stroke-width="5"/>
<polygon points="2178,1526.3 2196,1526.3 2187,1502.3" fill="#6b4fa6"/>
<line x1="2219.4" y1="1606" x2="2162.6" y2="1606" stroke="#6b4fa6" stroke-width="5"/>
<polygon points="2178.6,1597 2178.6,1615 2154.6,1606" fill="#6b4fa6"/>
<line x1="2187" y1="1659.3" x2="2187" y2="1703" stroke="#6b4fa6" stroke-width="5"/>
<polygon points="2178,1687 2196,1687 2187,1711" fill="#6b4fa6"/>
</svg>
</body></html>
